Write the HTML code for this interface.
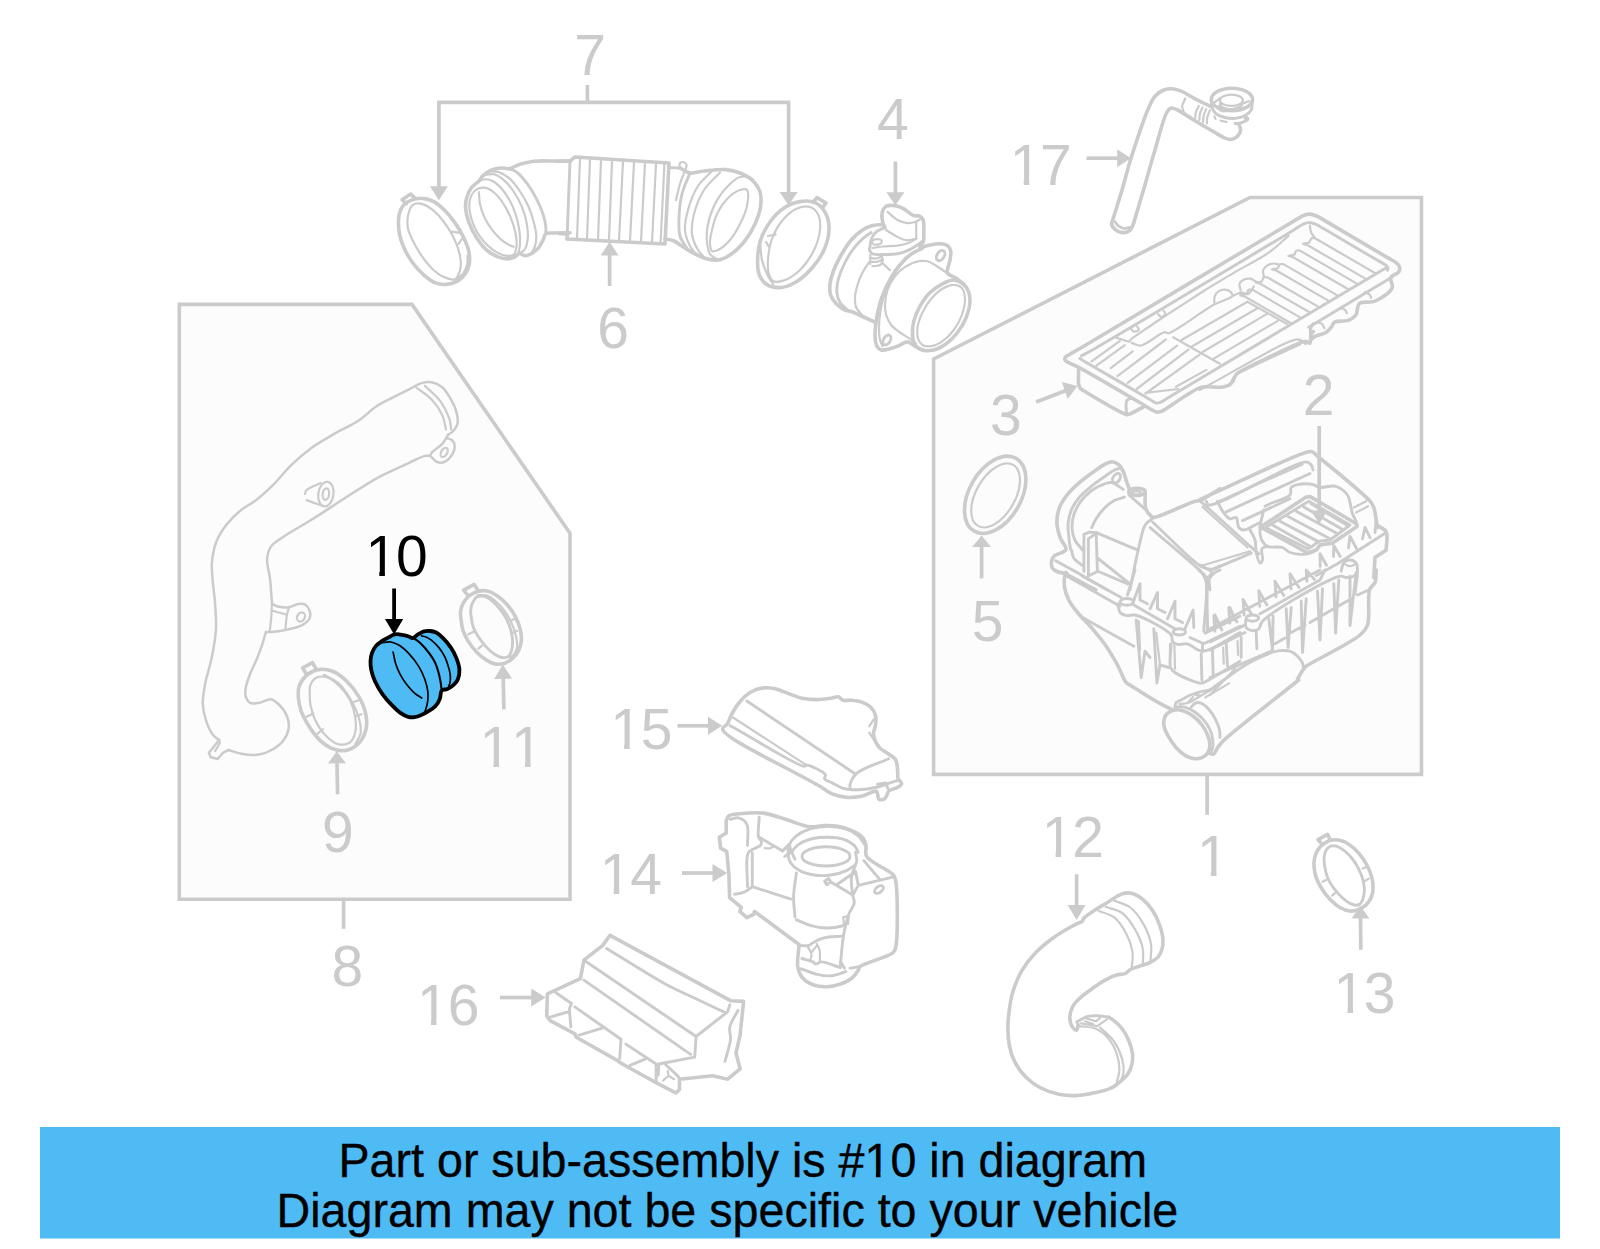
<!DOCTYPE html>
<html lang="en">
<head>
<meta charset="utf-8">
<title>Part diagram</title>
<style>
html,body{margin:0;padding:0;background:#fff;}
body{width:1600px;height:1249px;overflow:hidden;}
svg{display:block;}
.lbl{font-family:"Liberation Sans",sans-serif;font-size:57px;fill:#cbcbcb;}
.hl{font-family:"Liberation Sans",sans-serif;font-size:57px;fill:#000;}
.ban{font-family:"Liberation Sans",sans-serif;font-size:46.63px;fill:#000;stroke:#000;stroke-width:0.35px;}
.k3{fill:#4fbbf5;stroke:#000;stroke-width:3.8;stroke-linejoin:round;}
.k1{fill:none;stroke:#000;stroke-width:1.7;stroke-linecap:round;}
.k2{fill:none;stroke:#000;stroke-width:2.1;stroke-linecap:round;}
.g{fill:none;stroke:#cbcbcb;stroke-width:2.9;stroke-linecap:round;stroke-linejoin:round;}
.g3{fill:none;stroke:#cbcbcb;stroke-width:3.6;stroke-linecap:round;stroke-linejoin:round;}
.g2{fill:none;stroke:#cbcbcb;stroke-width:2.5;stroke-linecap:round;stroke-linejoin:round;}
.t{fill:none;stroke:#cbcbcb;stroke-width:2.2;stroke-linecap:round;stroke-linejoin:round;}
.ld{fill:none;stroke:#cbcbcb;stroke-width:3.7;}
.ah{fill:#cbcbcb;stroke:none;}
.box{fill:#fcfcfc;stroke:#cbcbcb;stroke-width:3.6;stroke-linejoin:miter;}
</style>
</head>
<body>
<svg width="1600" height="1249" viewBox="0 0 1600 1249">
<rect x="0" y="0" width="1600" height="1249" fill="#ffffff"/>
<defs><clipPath id="one"><path d="M-2,-52H35V-5.5H19.5V3H13.9V-5.5H-2Z"/></clipPath><clipPath id="oneb"><path d="M-2,-42H30V-4.4H16V3H11.35V-4.4H-2Z"/></clipPath></defs>

<!-- ===== group boxes ===== -->
<g id="boxes">
<polygon class="box" points="179.3,304.4 412,304.4 570,533.3 570,899.3 179.3,899.3"/>
<polygon class="box" points="933.6,359 1250,197.5 1421.5,197.5 1421.5,774.4 933.6,774.4"/>
</g>

<!-- ===== leader lines ===== -->
<g id="leaders">
<path class="ld" d="M587.4,85.0L587.4,102.4"/>
<path class="ld" d="M438.9,188.0L438.9,102.4L788.6,102.4L788.6,193.0"/>
<polygon class="ah" points="429.9,186.2 447.9,186.2 438.9,200.2"/>
<polygon class="ah" points="779.6,192.0 797.6,192.0 788.6,205.2"/>
<path class="ld" d="M609.6,286.0L609.6,254.0"/>
<polygon class="ah" points="618.6,255.6 600.6,255.6 609.6,241.8"/>
<path class="ld" d="M895.4,161.5L895.4,193.0"/>
<polygon class="ah" points="886.4,192.2 904.4,192.2 895.4,205.2"/>
<path class="ld" d="M1086.5,158.2L1118.0,158.2"/>
<polygon class="ah" points="1117.2,167.2 1117.2,149.2 1130.8,158.2"/>
<path class="ld" d="M1036.1,401.9L1066.0,390.4"/>
<polygon class="ah" points="1067.8,399.1 1061.8,382.1 1077.4,386.1"/>
<path class="ld" d="M1319.2,426.0L1319.2,511.5"/>
<polygon class="ah" points="1311.0,510.6 1327.4,510.6 1319.2,523.9"/>
<path class="ld" d="M981.6,578.4L981.6,546.0"/>
<polygon class="ah" points="991.0,546.9 972.2,546.9 981.6,535.4"/>
<path class="ld" d="M503.9,709.4L503.2,678.0"/>
<polygon class="ah" points="512.1,678.6 494.1,679.0 502.8,664.6"/>
<path class="ld" d="M337.6,794.3L337.0,762.5"/>
<polygon class="ah" points="346.0,763.2 328.0,763.6 336.7,751.2"/>
<path class="ld" d="M343.6,899.3L343.6,928.8"/>
<path class="ld" d="M677.5,725.8L709.0,725.8"/>
<polygon class="ah" points="708.0,734.8 708.0,716.8 722.2,725.8"/>
<path class="ld" d="M682.0,873.0L713.5,873.0"/>
<polygon class="ah" points="712.5,882.0 712.5,864.0 727.2,873.0"/>
<path class="ld" d="M500.0,997.5L532.0,997.5"/>
<polygon class="ah" points="531.2,1006.5 531.2,988.5 545.7,997.5"/>
<path class="ld" d="M1076.6,874.2L1076.6,906.0"/>
<polygon class="ah" points="1067.6,905.0 1085.6,905.0 1076.6,920.0"/>
<path class="ld" d="M1207.1,774.4L1207.1,814.8"/>
<path class="ld" d="M1360.8,949.7L1360.5,917.5"/>
<polygon class="ah" points="1369.5,918.4 1351.5,918.6 1360.3,905.8"/>
</g>

<!-- ===== labels ===== -->
<!-- LABELS-START -->
<g id="labels">
<g transform="translate(574.2,74.8)"><text class="lbl" x="0" y="0">7</text></g>
<g transform="translate(597.2,348)"><text class="lbl" x="0" y="0">6</text></g>
<g transform="translate(876.9,138.7)"><text class="lbl" x="0" y="0">4</text></g>
<g transform="translate(1009.8,184.8)"><text class="lbl" x="0" y="0" clip-path="url(#one)">1</text></g>
<g transform="translate(1039.9,184.8)"><text class="lbl" x="0" y="0">7</text></g>
<g transform="translate(990,434.6)"><text class="lbl" x="0" y="0">3</text></g>
<g transform="translate(1302.7,414.9)"><text class="lbl" x="0" y="0">2</text></g>
<g transform="translate(971.7,640.5)"><text class="lbl" x="0" y="0">5</text></g>
<g transform="translate(479.5,767.4)"><text class="lbl" x="0" y="0" clip-path="url(#one)">1</text></g>
<g transform="translate(511.1,767.4)"><text class="lbl" x="0" y="0" clip-path="url(#one)">1</text></g>
<g transform="translate(322,852.1)"><text class="lbl" x="0" y="0">9</text></g>
<g transform="translate(331.5,986.4)"><text class="lbl" x="0" y="0">8</text></g>
<g transform="translate(610.2,749.3)"><text class="lbl" x="0" y="0" clip-path="url(#one)">1</text></g>
<g transform="translate(640.7,749.3)"><text class="lbl" x="0" y="0">5</text></g>
<g transform="translate(599.8,893.5)"><text class="lbl" x="0" y="0" clip-path="url(#one)">1</text></g>
<g transform="translate(630.3,893.5)"><text class="lbl" x="0" y="0">4</text></g>
<g transform="translate(417,1024.8)"><text class="lbl" x="0" y="0" clip-path="url(#one)">1</text></g>
<g transform="translate(447.8,1024.8)"><text class="lbl" x="0" y="0">6</text></g>
<g transform="translate(1041.7,857.4)"><text class="lbl" x="0" y="0" clip-path="url(#one)">1</text></g>
<g transform="translate(1072.3,857.4)"><text class="lbl" x="0" y="0">2</text></g>
<g transform="translate(1197,875.9)"><text class="lbl" x="0" y="0" clip-path="url(#one)">1</text></g>
<g transform="translate(1333.6,1012.9)"><text class="lbl" x="0" y="0" clip-path="url(#one)">1</text></g>
<g transform="translate(1363.8,1012.9)"><text class="lbl" x="0" y="0">3</text></g>
<g transform="translate(365.4,575.8)"><text class="hl" x="0" y="0" clip-path="url(#one)">1</text></g>
<g transform="translate(395.9,575.8)"><text class="hl" x="0" y="0">0</text></g>
</g>
<!-- LABELS-END -->

<!-- PARTS-START -->
<g id="clamp7l">
<path class="g3" d="M398.4,222C398.5,218.8 398.7,215.8 399.6,213C400.4,210.2 401.6,207.3 403.5,205.1C405.5,202.9 408.4,201.2 411.4,200.1C414.7,198.8 418.9,198.1 422.6,198.4C426.4,198.6 430.3,199.9 433.9,201.7C437.8,203.8 441.6,207.3 445.1,210.7C448.8,214.4 452.2,218.8 455.2,223.1C458.2,227.4 460.9,231.9 463.1,236.6C465.4,241.3 467.8,246.5 468.7,251.2C469.6,255.5 469.9,259.8 469.3,263.6C468.7,267.2 467.4,270.8 465.4,273.7C463.4,276.6 460.6,279.3 457.5,281.1C454.3,282.9 450,284.2 446.2,284.4C442.5,284.7 438.6,284.2 435,282.7C431.1,281.2 427.3,278 423.7,274.9C419.8,271.4 415.8,267.1 412.5,262.5C409,257.7 405.7,251.8 403.5,246.7C401.6,242.5 400.4,238.5 399.6,234.4C398.7,230.3 398.4,225.8 398.4,222Z"/>
<path class="t" d="M407.4,222C407.5,219.2 407.7,215.8 408.6,213C409.4,210.2 410.5,206.7 412.5,205.1C414.2,203.7 416.9,203.3 419.2,203.4C422.1,203.6 425.3,205.1 428.2,206.8C431.7,208.8 435.2,212 438.4,215.2C441.8,218.8 445.1,223.3 447.9,227.6C450.7,231.9 453.3,236.5 455.2,241.1C457.2,245.5 458.9,250.2 459.7,254.6C460.6,258.8 461.1,263.3 460.6,267C460.3,270.1 459.3,273.2 458.1,275.4C457.1,277.1 456.4,278.8 454.7,279.4C452.3,280.2 447.5,278.6 444,277.1C440.1,275.4 436.3,272.5 432.7,269.2C428.7,265.6 424.9,260.6 421.5,255.7C418.1,250.8 414.9,244.9 412.5,240C410.6,236 408.8,232.1 408,228.7C407.4,226.3 407.4,224.4 407.4,222Z M456.4,279.4C458.6,277.5 461.4,276.1 463.1,273.7C465,271.3 466.3,267.8 467.1,264.7C467.8,261.8 467.4,258.7 467.6,255.7"/>
<path class="g3" d="M406.3,203.8L402.1,199.7L410.8,194.1L415,198.1"/>
<path class="t" d="M451.9,231.6L462,233.2 M462,238.9L458.6,243.9"/>
</g>
<g id="duct6">
<path class="g3" d="M570,161.2C564.4,161.2 558.9,161 553.1,161C546.9,161 539.8,160.6 534,161.2C529.1,161.8 524.7,162.8 520.5,164.1C516.5,165.3 512.9,168 509.2,168.6C506.1,169.1 503.2,167.7 500.2,168C497.2,168.3 494.1,169 491.2,170.2C488.4,171.5 485.5,173.4 483.4,175.3C481.5,177 480.7,179 478.9,180.9C476.7,183.3 473.1,185.4 471,188.2C468.9,191.2 467.4,194.9 466.5,198.4C465.6,201.7 465.3,204.9 465.6,208.5C465.9,212.7 467.1,217.4 468.7,222C470.6,227.2 473.5,233 476.6,237.7C479.6,242.3 483,246.9 486.7,250.1C490.2,253.1 494.2,255.4 498,256.9C501.4,258.2 505.1,259 508.1,258.9C510.6,258.8 512.9,257.9 514.9,256.9C516.6,256 517.7,253.7 519.4,253.5C521.1,253.3 523,255.7 525,255.7C527.1,255.8 529.6,254.7 531.7,253.5C534.1,252.2 536.6,250.1 538.5,247.9C540.4,245.6 541.7,242.5 543,240C544.1,237.8 544.2,235 545.8,233.8C547.5,232.6 550.4,233.2 553.1,233C556.7,232.8 562.4,232.7 565.5,232.7C567.4,232.7 568.5,232.7 570,232.7"/>
<path class="g" d="M509.2,168.6C511.9,169.9 514.5,170.5 517.1,172.5C520.5,175.1 524.1,179.6 527.2,183.7C530.6,188.2 533.6,193.3 536.2,198.4C538.9,203.4 541.4,209.1 543,214.1C544.4,218.4 545.4,222.9 545.8,226.5C546.1,229.2 545.8,231.4 545.8,233.8"/>
<path class="t" d="M478.9,181.5C480.4,180.8 481.6,179.7 483.4,179.5C485.6,179.1 488.7,179.3 491.2,180.4C494.3,181.6 497.4,184.3 500.2,187.1C503.5,190.4 506.7,195 509.2,199.5C512,204.3 514.3,209.9 516,215.2C517.6,220.4 518.7,225.8 519.4,231C520,235.9 520.3,241.5 519.9,245.6C519.7,248.7 518.8,250.9 518.2,253.5 M469.3,206.2C469.2,202.4 469.7,199 471,196.1C472.2,193.5 474.3,190.8 476.6,189.4C478.8,188 481.8,187.4 484.5,187.7C487.5,188.1 490.7,190 493.5,192.2C496.8,194.7 499.8,198.4 502.5,202.3C505.5,206.6 508.2,211.9 510.4,216.9C512.5,222 514.4,227.6 515.4,232.7C516.3,237.2 517,241.7 516.6,245.6C516.2,248.9 515.7,253 513.7,254.6C512,256.1 508.5,256 505.9,255.7C502.9,255.4 499.8,254 496.9,252.4C493.7,250.7 490.7,248.2 487.9,245.6C485,243 482.4,240 480,236.6C477.4,233 475,228.9 473.2,224.2C471.3,218.9 469.4,211.4 469.3,206.2Z M478.9,192.2C479.2,196.1 479.1,200 480,204C480.9,208.4 482.6,213.3 484.5,217.5C486.4,221.5 488.7,225.2 491.2,228.7C493.9,232.3 497.1,236.1 500.2,238.9C503.1,241.4 506.7,243.7 509.2,245.1C510.9,245.9 512.2,246.2 513.7,246.7 M483.4,175.3C486.7,174.9 490.2,173.5 493.5,174.2C497,174.9 500.5,177.2 503.6,179.8C507.3,182.8 510.8,187.3 513.7,191.6C516.8,196.1 519.5,201.1 521.6,206.2C523.8,211.6 525.7,217.6 526.7,223.1C527.6,228.1 528.2,233.2 527.8,237.7C527.5,241.8 526.6,246.4 525,249C523.8,250.9 522,251.6 520.5,252.9 M489,171.4C492,171.6 494.9,171 498,171.9C501.7,173 505.8,175.3 509.2,178.1C513.1,181.3 516.3,186 519.4,190.5C522.7,195.3 525.9,200.8 528.4,206.2C530.8,211.7 532.7,217.9 534,223.1C535.1,227.5 536.1,231.6 536.2,235.5C536.4,239 536,242.6 535.1,245.6C534.4,248.3 532.9,250.5 531.7,252.9"/>
<path class="g3" d="M559.4,161L570,161L575,157L669,163L665,244L567,239L567.4,234L559.4,233.6"/>
<path class="g" d="M570,161L567,239"/>
<path class="t" d="M580,158.9L577,238.5 M590,159.6L587,239 M601,160.3L598,239.6 M612,161L609,240.1 M623,161.7L619,240.7 M634,162.4L630,241.2 M645,163.1L641,241.8 M656,163.8L652,242.3 M664.4,164.3L660.6,242.8"/>
<path class="g" d="M669,167.6L680,168"/>
<path class="t" d="M680,168C679.9,166.5 679,164.6 679.6,163.6C680.1,162.7 681.9,161.9 683,162C684.2,162.1 685.9,163.3 686.4,164.4C686.9,165.5 686.1,167.1 686,168.4"/>
<path class="g3" d="M680,168C683.3,169.7 686.3,172.4 690,173C694.2,173.7 698.8,171.5 704,171C710.5,170.3 719.5,169 726,169.6C731.2,170.1 735.6,171.2 740,173C744.3,174.7 748.7,176.9 752,180C755.4,183.2 758.6,187.6 760,192C761.4,196.3 761.2,201.1 760.6,206C759.9,211.7 757.6,218.2 755,224C752.2,230.2 748.3,236.7 744,242C739.9,247 734.8,251.9 730,255C726.1,257.5 722.2,259.5 718,260C713.6,260.6 708.7,259.5 704,258C698.7,256.3 692,252.3 688,250C685.5,248.5 684.2,247.4 682,246C679.5,244.4 676.9,242.2 674,241C671.2,239.8 668,239.7 665,239"/>
<path class="g" d="M690,173C687.3,180 683.8,186.7 682,194C680.1,201.6 679.3,210.6 679,218C678.8,224.4 678.4,230.5 680,236C681.5,241.2 685.3,245.3 688,250"/>
<path class="t" d="M760,192C757.3,187.7 755.6,181.4 752,179C748.8,176.8 743.9,176 740,177C735.2,178.2 730.2,183.5 726,188C721.4,193 717.1,199.6 714,206C711,212.3 708.7,219.6 707.6,226C706.6,231.6 706.5,237.1 707,242C707.4,246.3 708,250.9 710,254C711.8,256.8 715.3,258 718,260 M747,190C745.6,188.6 742.5,189.2 740,190C736.4,191.1 731.5,194.6 728,198C724.1,201.8 720.6,206.8 718,212C715.2,217.4 713.3,224.3 712,230C710.8,234.9 709.7,240.2 710,244C710.2,246.8 710.5,250.1 712,251C713.3,251.8 715.8,251 718,250C721.5,248.4 726.5,244.1 730,240C733.9,235.5 737.2,229.6 740,224C742.9,218.3 745.9,211.9 747,206C748,200.6 749.1,192.1 747,190Z M720,172.4C714.7,178.3 708.3,183.3 704,190C699.5,197 696,206.2 694,214C692.3,220.8 691.2,227.8 692,234C692.7,239.7 695.6,245.9 698,250C699.8,253 702,254.7 704,257 M712,171C707.3,176 701.9,180 698,186C693.6,192.7 690.2,202.2 688,210C686.1,216.8 684.5,223.8 685,230C685.4,235.7 687.8,241.7 690,246C691.7,249.3 694,251.3 696,254 M684,173C682.7,176.7 681.2,180 680,184C678.5,188.8 677.3,194.7 676,200"/>
</g>
<g id="clamp7r">
<path class="g3" d="M757.6,260C757.7,254.4 758.2,248 760,242C762,235.3 765.8,227.8 770,222C773.9,216.6 778.8,211.4 784,208C788.9,204.8 794.6,202.4 800,201.6C805.2,200.8 811.6,200.8 816,203C820.2,205.1 823.8,209.6 826,214C828.3,218.6 829.2,224.4 829,230C828.8,236.3 826.8,243.7 824,250C821.2,256.4 816.7,262.6 812,268C807.3,273.3 801.7,278.7 796,282C790.9,285 785.2,287.4 780,287.6C775.2,287.8 769.6,286.5 766,284C762.7,281.7 760.4,277.8 759,274C757.5,269.9 757.5,265 757.6,260Z"/>
<path class="t" d="M768,260C768.4,254.2 769.3,246.4 771.6,240C773.9,233.4 777.7,226.3 782,221C786,216.1 791,211.3 796,209C800.4,207 806.2,205.8 810,207C813.5,208.1 816.7,211.5 818.4,215C820.4,219 820.5,224.7 820,230C819.4,236.2 817.1,243.6 814,250C810.6,256.9 805.4,264.8 800,270C795.2,274.6 789,278.8 784,280.4C780.2,281.7 775.6,282.5 773,281C770.5,279.6 769.3,275.3 768.4,272C767.5,268.4 767.7,264.5 768,260Z M760,242C760.7,248 760.6,254.3 762,260C763.3,265.6 765.9,271.7 768,276C769.6,279.2 771.3,281.3 773,284"/>
<path class="g3" d="M813,202.4L817,197.6L826,203L822.4,208"/>
<path class="t" d="M768,236L775.6,234.6 M766,242L769,247"/>
</g>
<g id="maf4">
<path class="g3" d="M885,227.5C884.4,226.2 883.6,225.4 883.1,223.8C882.4,220.9 881.5,214.4 882.5,211.2C883.2,209.1 884.4,207.2 886.2,206.2C888.4,205.1 892.2,205.3 895,205.6C897.6,206 899.8,206.8 902.5,208.1C906,209.8 910.4,214.4 913.8,215.6C916,216.4 918.4,215.4 920,216.2C921.4,217 922.4,218.2 923.1,220C924.2,222.8 923.8,228.6 923.8,232.5C923.7,236 924.2,240.2 923.1,242.5C922.4,244 921,244.6 920,245.6"/>
<path class="t" d="M887.5,211.9C890.8,214.6 894,218.1 897.5,220C900.7,221.7 904.3,222.9 907.5,223.1C910.5,223.3 914,222.3 916.2,221.5C917.8,220.9 918.8,220.1 920,219.4 M886.2,230C889.6,232.1 892.8,234.5 896.2,236.2C899.5,237.9 902.9,239.9 906.2,240.2C909.4,240.6 912.5,239.2 915.6,238.8 M916.2,221.9L916.2,238.8"/>
<path class="g" d="M885,227.5C882.1,229 878.5,229.9 876.2,231.9C874.1,233.7 872.5,236.3 871.5,238.8C870.5,241.1 870.3,244.2 870,246.2C869.8,247.7 869.2,248.8 869.5,250C869.9,251.3 870.9,252.9 872.5,253.8C875.1,255.1 880.8,254.5 885,254.5C889.2,254.5 893.6,254.5 897.5,253.8C901.1,253.1 904.2,252 907.5,250.6C910.9,249.2 914.8,246.8 917.5,245C919.5,243.7 920.8,242.5 922.5,241.2"/>
<path class="t" d="M872.5,248.1C875.8,247.6 878.8,246.9 882.5,246.5C887,246 893.2,246.2 897.5,245.6C900.8,245.2 903.3,244.8 906.2,243.8C909.5,242.6 912.9,240.4 916.2,238.8"/>
<ellipse class="t" cx="876.9" cy="241.9" rx="5" ry="2.8" transform="rotate(-5 876.9 241.9)"/>
<path class="t" d="M870.2,255L870.2,264 M881.5,255C881.9,256.7 882.9,258.4 882.8,260C882.6,261.7 881.7,263.9 880.2,265C878.5,266.3 875.1,265.8 872.5,266.2 M871.9,258.1C873.3,258.2 874.8,258.7 876.2,258.5C877.7,258.3 879.2,257.4 880.6,256.9 M871.9,261.9C873.5,261.9 875.3,262.2 876.9,261.9C878.5,261.6 880,260.6 881.5,260 M882.5,263.1L890,270.2"/>
<path class="g3" d="M882.5,224.4C879.2,224.8 875.8,224.7 872.5,225.6C869.1,226.6 865.8,227.9 862.5,230C858.7,232.5 854.7,236.1 851.2,240C847.5,244.3 844.2,249.9 841.2,255C838.4,259.9 835.7,265 833.8,270C832,274.6 830.5,279.4 830,283.8C829.6,287.7 829.5,291.6 830.6,295C831.7,298.3 833.9,301.3 836.2,303.8C838.7,306.3 842.2,308.7 845,310C847.2,311 848.9,310.7 851.2,311.5C854.5,312.6 858.7,314.8 862.5,316.5C866.4,318.3 870.4,320.1 874.4,321.9"/>
<path class="g" d="M871.2,232.5C868.3,234.6 865.4,236.2 862.5,238.8C859.1,241.8 855.5,245.8 852.5,250C849.2,254.5 846.2,259.9 843.8,265C841.4,269.9 839.3,275.2 838.1,280C837.1,284.3 836.5,288.6 836.9,292.5C837.2,296.1 838.2,299.6 840,302.5C841.8,305.4 845,307.5 847.5,310"/>
<path class="t" d="M868.8,262.5C866.7,265.8 864.3,268.9 862.5,272.5C860.5,276.4 858.8,280.8 857.5,285C856.3,289.1 855.1,293.6 855,297.5C854.9,301 855,304.5 856.2,307.5C857.5,310.5 860.4,312.9 862.5,315.6"/>
<path class="g3" d="M920,247.8C923.3,246.8 926.5,245.7 930,245C933.6,244.3 938.1,243.5 941.2,243.8C943.7,244 945.9,244.4 947.5,245.6C949,246.8 950.1,248.6 950.6,250.6C951.3,253.2 950.4,256.6 950,260C949.5,264 946.1,270.1 947.5,273.1C948.7,275.8 953.5,276.2 956.2,278.1C958.9,280 961.2,282.3 963.8,284.4 M922.5,248.1C918.3,250.4 913.8,252.2 910,255C906.3,257.8 903.1,261.3 900,265C896.8,268.8 893.9,273 891.2,277.5C888.5,282.2 885.9,287.4 883.8,292.5C881.7,297.4 880,302.6 878.8,307.5C877.6,312.1 876.9,316.6 876.2,321.2C875.6,326.1 874.8,331.8 875,336.2C875.2,339.9 875.5,343.9 876.9,346.2C877.9,348 879.4,349.5 881.2,350C883.6,350.7 887.2,349.4 890,348.8C892.6,348.1 894.8,347.3 897.5,346.2C900.6,345.1 904.4,341.7 907.5,341.9C910.2,342 912.5,344.9 915,346.2C917.5,347.6 920,348.8 922.5,350"/>
<path class="t" d="M906.2,256.9C903.1,260.6 899.7,264 896.9,268.1C893.9,272.5 891,277.6 888.8,282.5C886.6,287.4 884.9,292.5 883.5,297.5C882.1,302.5 881,307.5 880.2,312.5C879.5,317.5 879,322.7 879,327.5C879,331.9 879.2,336.6 880,340C880.6,342.5 881.7,344.2 882.5,346.2"/>
<ellipse class="g" cx="940.6" cy="255.6" rx="3.6" ry="5.6" transform="rotate(32 940.6 255.6)"/>
<ellipse class="g" cx="886.9" cy="340.0" rx="3.4" ry="5.4" transform="rotate(32 886.9 340.0)"/>
<path class="t" d="M916.2,343.8C914.2,342.1 912.4,340.4 910,338.8C907.1,336.7 903.1,334.8 900,332.5C896.9,330.2 893.5,327.9 891.2,325C889,322.1 887.3,318.4 886.2,315C885.3,311.7 884.9,308.7 885,305C885.1,300.5 885.9,294.8 887.5,290C889.2,285.2 891.8,280.2 895,276.2C898.1,272.3 902.2,268.8 906.2,266.2C910.1,263.9 914.9,262 918.8,261.2C921.9,260.7 924.8,260.6 927.5,261.2C930.2,261.9 932.3,263.4 935,265C938.4,267 942.9,270.3 946.2,272.5C949,274.3 951.2,275.8 953.8,277.5"/>
<path class="g3" d="M963.8,284.4C966.1,286.4 967.7,289.5 968.8,292.5C969.8,295.6 970.2,298.9 970,302.5C969.7,307 968.2,312.6 966.2,317.5C964.2,322.7 960.9,328.1 957.5,332.5C954.2,336.8 950.4,340.8 946.2,343.8C942.4,346.5 937.9,349 933.8,350C930,350.9 925.7,351 922.5,350C919.6,349.1 916.7,347.4 915,345C913.2,342.5 912.8,338.6 912.5,335C912.2,330.8 912.6,325.8 913.8,321.2C915,316.3 917.3,311 920,306.2C922.7,301.4 926.1,296.3 930,292.5C933.7,288.9 938.3,285.9 942.5,283.8C946.2,281.9 950.1,279.8 953.8,280C957.2,280.2 961.2,282.2 963.8,284.4Z"/>
<path class="t" d="M961.9,288.1C964,290.5 964.8,294.8 965,298.8C965.2,303.6 963.7,309.8 961.9,315C960,320.3 957.1,325.6 953.8,330C950.6,334.3 946.5,338.5 942.5,341.2C939,343.7 934.8,345.8 931.2,346.2C928.2,346.7 924.7,346.4 922.5,345C920.4,343.7 919,341.3 918.1,338.8C917.1,335.7 917,331.5 917.5,327.5C918.1,322.8 920.2,317.3 922.5,312.5C924.8,307.7 927.8,302.8 931.2,298.8C934.5,294.9 938.5,291.1 942.5,288.8C946.1,286.6 950.3,284.7 953.8,284.8C956.7,284.8 960,286 961.9,288.1Z"/>
</g>
<g id="hose17">
<path class="g3" d="M1133.8,222.5C1132.9,224.6 1132.4,227.1 1131.2,228.8C1130.2,230.1 1129,231.3 1127.5,231.9C1125.8,232.6 1123.3,232.8 1121.2,232.4C1119.1,232 1116.6,230.8 1115,229.4C1113.5,228.1 1111.9,226.2 1111.6,224.4C1111.3,222.6 1112.4,221.3 1113.1,218.8C1114.8,212.9 1119.1,199.9 1122,190C1125.1,179.5 1127.5,169.4 1131.2,157.5C1136,142.6 1144,118.1 1148.8,107.5C1151.1,102.3 1152.3,99.2 1155,96.2C1157.4,93.5 1160.7,91.2 1163.8,90C1166.5,88.9 1169.6,88.6 1172.5,88.8C1175.4,89 1178.2,90 1181.2,91.2C1185.1,92.8 1189.3,95.8 1193.8,98.1C1198.8,100.8 1204.6,103.5 1210,106.2"/>
<path class="g" d="M1115,221.9C1116.2,223.3 1117.3,225.2 1118.8,226.2C1120.2,227.3 1122,228.2 1123.8,228.4C1125.7,228.7 1127.9,227.8 1130,227.5"/>
<path class="g3" d="M1133.8,222.5C1136.5,213.3 1139,205.3 1142,195C1145.9,181.8 1150.6,164.4 1155,150C1159,136.7 1163.3,117.8 1167.1,111.9C1168.5,109.7 1169.6,108.5 1171.2,108.1C1173,107.7 1175,108.9 1177.5,110C1181.7,111.9 1188,116.5 1193.8,120C1200.3,124 1209.2,129.2 1215,132.5C1218.9,134.8 1222,137 1225,138.1C1227.3,139 1229.2,139.6 1231.2,139.4C1233.4,139.1 1235.9,137.8 1237.5,136.2C1239.1,134.7 1240.4,132.1 1240.6,130C1240.8,128.1 1239.5,126.2 1239,124.4"/>
<path class="t" d="M1185.2,98.5C1184.2,101.1 1182.4,103.7 1182.2,106.2C1182.1,108.6 1183.4,110.8 1184,113.1 M1198.8,106C1197.8,108 1196.6,109.9 1196,111.9C1195.4,113.8 1195.5,115.8 1195.2,117.8 M1202.5,107.5C1201.6,109.6 1200.5,111.6 1199.9,113.8C1199.4,115.8 1199.6,117.9 1199.4,120 M1206.2,109C1205.4,111.2 1204.2,113.3 1203.7,115.6C1203.2,117.7 1203.3,119.9 1203.1,122.1 M1210,110.2C1209.1,112.5 1208,114.6 1207.4,116.9C1206.9,119 1207.1,121.3 1206.9,123.5"/>
<ellipse class="g3" cx="1231.9" cy="99.4" rx="20.6" ry="11.2"/>
<path class="g" d="M1211.2,100C1211.5,102.5 1211,105.2 1211.9,107.5C1212.7,109.8 1214.2,112.1 1216.2,113.8C1218.5,115.6 1221.9,116.7 1225,117.5C1228.2,118.3 1231.7,118.7 1235,118.4C1238.4,118.1 1242.2,117.2 1245,115.6C1247.5,114.2 1250,112.4 1251.2,110C1252.6,107.3 1252.1,103.3 1252.5,100"/>
<ellipse class="t" cx="1231.4" cy="100.2" rx="11.5" ry="5.6"/>
<path class="t" d="M1220,101.2C1220.4,102.9 1220.2,105 1221.2,106.2C1222.5,107.7 1225.2,108.4 1227.5,108.8C1230.1,109.2 1233.7,108.9 1236.2,108.1C1238.4,107.5 1240.8,106.4 1241.9,105C1242.7,103.9 1242.5,102.5 1242.8,101.2 M1214,102.8L1220,98.1 M1243.1,103.5L1248.8,101.2 M1220.6,102.8C1220,104.8 1218.2,107.6 1218.8,109C1219.2,110.2 1220.9,110.9 1222.5,111.2C1224.7,111.7 1228.3,110.9 1231.2,110.2C1234.5,109.5 1237.9,108 1241.2,106.9 M1214.4,116.5L1215.6,119 M1220.6,120.6L1226.5,122"/>
<path class="g" d="M1235,123.5C1236.7,123.4 1238.4,123.5 1240,123.1C1241.7,122.8 1243.6,122 1245,121.2C1246.1,120.7 1247.5,120.1 1247.8,119.4C1248,118.8 1247.7,117.7 1247.2,117.5C1246.8,117.2 1245.8,117.9 1245,118.1"/>
</g>
<g id="filter3">
<path class="g3" d="M1162.5,410.9C1160.6,411.3 1158.7,412.3 1156.9,412.1C1155,411.8 1153.3,410.5 1151.2,409.5C1148.8,408.2 1147.3,407 1143.4,404.7C1132.3,398.2 1091.2,373.9 1079.2,367.6C1074.7,365.3 1072.2,364.5 1069.7,363.1C1067.9,362.1 1065.8,361.5 1065.2,360.3C1064.7,359.5 1064.8,358.3 1065.2,357.5C1065.7,356.5 1067,356 1068.6,355C1071.8,352.9 1075.8,350.9 1083.7,346.2C1113.8,328.6 1277.6,230.4 1297.5,218.9C1300.7,217 1301.2,216.6 1303.1,215.7C1305,215 1306.7,214.1 1308.7,214.1C1311.1,214 1314,214.9 1316.6,216C1319.6,217.2 1321.3,218.6 1325.6,221.1C1337,227.8 1376.1,250.8 1387.5,257.6C1391.8,260.2 1394.4,261.1 1396.5,263C1398,264.3 1399.3,265.4 1399.6,266.9C1400,268.4 1399.7,270.4 1398.7,272C1397.4,274.1 1392,275.1 1390.9,277.6C1389.7,280.3 1393.5,284.5 1392.2,287.7C1390.3,292.5 1381.1,298.7 1375.1,301.2C1370,303.4 1362.5,300.8 1359.4,303.5C1356.7,305.8 1358,311.9 1356,314.7C1354.1,317.4 1351.3,319.1 1348.1,320.4C1344.4,321.8 1337.4,320.3 1334.6,322.1C1332.7,323.2 1332.6,325.5 1331.2,327.1C1329.7,329 1328,331.3 1325.6,332.7C1322.9,334.4 1318.1,334.8 1315.5,336.1C1313.6,337.1 1312.5,338.4 1311,339.5 M1162.5,410.9C1174.9,403.2 1191.6,390.8 1199.6,387.9C1203,386.6 1204.5,386.9 1207.5,386.8C1211.4,386.5 1217,387.7 1221,387.2C1224.3,386.8 1227.5,386.4 1230,384.5C1232.9,382.3 1234.1,376.2 1236.8,373.7C1238.8,371.8 1240.1,371.6 1243.5,369.9C1252.7,365 1286,348.7 1296.4,344.5C1300.6,342.7 1302.9,341.2 1305.4,341.3C1307.1,341.3 1308.9,343.7 1309.9,343.1C1311.1,342.4 1310.2,337.1 1311,335C1311.6,333.6 1312.5,332.8 1313.3,331.6"/>
<path class="g" d="M1311,339.5C1310.8,336.1 1309.9,332.2 1310.4,329.4C1310.9,327.2 1312.3,325.6 1313.2,323.7"/>
<path class="g3" d="M1078.7,367.6C1078.7,373.2 1077.9,380.9 1078.7,384.5C1079.1,386.3 1079.5,387.4 1080.4,388.4C1081.2,389.4 1082,389.6 1083.7,390.7C1089.8,394.4 1118.1,411.2 1124.2,413.7C1125.9,414.4 1126.1,414.8 1127.6,414.6C1131,414.3 1138.1,409.5 1143.4,407"/>
<path class="g" d="M1126.5,414.9C1126.5,410.4 1125.5,403.9 1126.5,401.4C1127,400.2 1128,399.6 1128.7,399.1C1129.4,398.7 1130.1,398.7 1130.8,398.6 M1081.5,355.8C1086,353.4 1087.9,352.5 1095,348.5C1122.4,332.9 1268.7,245.1 1293,230.4C1298.5,227 1300.2,225.5 1303.1,224.2C1305.2,223.3 1306.8,222.5 1308.7,222.5C1310.9,222.4 1313.1,223.2 1315.5,224.2C1318.6,225.4 1321,227.2 1325.6,229.8C1336.1,235.8 1365.8,253.4 1376.2,259.6C1380.9,262.4 1384.5,263.9 1386.4,265.8C1387.4,266.8 1388,267.8 1388.1,268.6C1388.1,269.2 1387.7,269.7 1387.5,270.3 M1079.8,358.6C1081.1,359.4 1081.6,359.7 1083.7,360.9C1092.5,365.9 1141.6,394.7 1151.2,400.2C1153.9,401.8 1154.6,402.8 1156.3,403.1C1158,403.3 1159.6,402.6 1161.4,401.9C1163.5,401.1 1164.3,400.1 1168.1,397.8C1189.3,384.9 1350.3,289.1 1376.2,273.7C1382.2,270.1 1383.6,269.3 1387.3,267.2 M1390.9,277.8L1308.7,327.3"/>
<path class="t" d="M1315,238.2L1376.2,273.7 M1306.9,244.8L1366.7,279.4 M1299.9,250.6L1358.2,284.4 M1292.3,256.8L1349.2,289.7 M1283.4,264.1L1338.6,296.1 M1275.8,270.3L1329.6,301.4 M1267.3,277.3L1319.4,307.4 M1259.8,283.5L1310.4,312.8 M1252.2,289.6L1301.4,318.1 M1244.2,296.2L1291.9,323.8 M1315,238.2C1313.8,238.2 1312.4,237.8 1311.5,238.3C1310.4,239 1310.4,241.3 1309.2,242.3C1307.8,243.3 1302.9,243.3 1302.9,243.8C1302.9,244.1 1305.6,244.4 1306.9,244.8 M1299.9,250.6C1298.7,250.6 1297.3,250.1 1296.4,250.7C1295.3,251.3 1295.3,253.8 1294.1,254.6C1292.8,255.6 1288.3,255.4 1288.3,255.8C1288.3,256.1 1291,256.4 1292.3,256.8 M1283.4,264.1C1282.2,264.2 1280.8,263.7 1279.9,264.2C1278.8,264.9 1278.8,267.3 1277.6,268.2C1276.3,269.1 1271.8,268.9 1271.8,269.3C1271.8,269.6 1274.5,270 1275.8,270.3 M1267.3,277.3C1266.2,277.3 1264.8,276.8 1263.8,277.4C1262.8,278 1262.8,280.5 1261.6,281.3C1260.2,282.3 1255.7,282.1 1255.7,282.4C1255.7,282.8 1258.4,283.1 1259.8,283.5 M1252.2,289.6C1251.1,289.7 1249.7,289.2 1248.7,289.8C1247.7,290.4 1247.7,292.8 1246.5,293.7C1245,294.8 1240.2,294.8 1240.2,295.2C1240.2,295.6 1242.9,295.9 1244.2,296.2 M1309.9,225.6C1310.2,227.8 1310.2,230.1 1311,232.1C1311.8,234.1 1313.4,235.8 1314.6,237.7 M1091.6,361.4L1119.7,341.2 M1096.1,365.9L1124.8,345.1 M1110.7,368.2L1132.7,351.3 M1117.5,376.1L1165.9,339.5 M1127.6,382.8L1177.1,345.7 M1136.6,389L1188.4,349.6 M1145.6,393.5L1199.6,354.7 M1176,386.7L1206.4,369.9 M1145.6,392.9L1178.2,389 M1116.4,337.8L1128.7,341.7L1132.7,337.8 M1132.7,337.8C1143,330.9 1152.5,324.3 1163.6,317C1176.4,308.5 1191.4,299 1205.2,290 M1131.6,342.9C1134.4,343.8 1137.4,345.8 1140,345.7C1142.4,345.6 1144,344.2 1146.7,342.9C1151.4,340.6 1161.1,332.6 1164.7,332.2C1166.3,332 1166.4,333.5 1168.1,333.3C1174.8,332.5 1202.7,310.6 1214.2,304.6C1220.7,301.3 1224.7,300.1 1230,297.9 M1173.2,337.2L1219.9,363.7 M1131,328.8C1131.9,329.7 1132.6,331.3 1133.8,331.6C1135.2,331.9 1138.5,330.9 1138.9,329.9C1139.2,329.1 1137.7,327.7 1137.2,326.6 M1158,314.2C1159.1,315.1 1160.2,317 1161.4,317C1162.6,317 1165.1,314.8 1165.3,313.6C1165.5,312.7 1164.2,311.7 1163.6,310.8 M1205.2,289.9C1214.6,284.3 1223.4,278.9 1233.4,273.1C1244.6,266.4 1259.5,259.2 1269.4,252.2C1277,246.8 1282.1,241.3 1288.5,235.8 M1230,297.8C1231.9,296.7 1233.6,295.3 1235.6,294.4C1237.6,293.6 1239.7,292.8 1241.8,292.7C1243.9,292.7 1246.2,294.7 1248,294.1C1249.8,293.5 1251.5,290.3 1252.5,288.8C1253.2,287.8 1253.4,287.1 1253.8,286.2 M1214.2,302.3C1214.4,300.2 1214.1,298 1214.8,296.1C1215.6,294.2 1217,292.2 1218.7,291.1C1220.5,289.9 1223.4,289.4 1225.5,289.6C1227.5,289.8 1230,291 1231.1,292.2C1232,293 1232,294.2 1232.5,295.2 M1240.7,290.5C1240.3,288.2 1239,285.6 1239.6,283.7C1240.1,282.1 1241.8,280.7 1243.5,279.8C1245.3,278.9 1248.1,278.4 1250.2,278.7C1252.3,279 1254,280.6 1255.9,281.5 M1263.7,276.1C1263.6,274.1 1262.6,272 1263.2,270.2C1263.7,268.5 1265.5,266.9 1267.1,265.7C1268.9,264.5 1271.8,263.6 1273.9,263.5C1275.5,263.4 1276.9,264.2 1278.4,264.6 M1181.6,340L1247.4,301.7L1289.6,325.4 M1192.3,346.2L1257,308.5 M1203,351.8L1266.6,314.1 M1213.7,358.6L1277.8,320.9 M1199.6,389.9C1232.2,373.1 1284.8,340 1297.5,339.4C1300.5,339.3 1301.7,340.7 1303.1,341.7C1304.2,342.4 1304.6,343.4 1305.4,344.3"/>
<path class="g" d="M1233.4,381.6C1234.1,379.4 1234.3,376.6 1235.6,374.9C1236.9,373.2 1238.3,373.1 1241.2,371.5C1250.4,366.6 1280.2,353.3 1299.7,344.3"/>
<path class="t" d="M1365,292.2C1366.5,293 1368.5,293.5 1369.5,294.5C1370.4,295.4 1370.6,296.7 1371.2,297.9 M1340.2,308C1341.7,308.6 1343.6,308.8 1344.7,309.7C1345.8,310.5 1346.2,311.9 1347,313.1 M1316.6,322.1C1318.3,322.6 1320.4,322.7 1321.7,323.7C1323,324.8 1323.6,326.7 1324.5,328.2"/>
</g>
<g id="housing2">
<path class="g3" d="M1067,573.7C1063.6,573 1059.5,572.7 1056.9,571.5C1055,570.6 1053.3,569.7 1052.4,568.1C1051.3,566.2 1051.3,562.4 1051.8,560.2C1052.3,558.5 1053.1,557.2 1054.6,555.7C1057,553.5 1064.9,552.5 1065.9,549.6C1066.8,546.6 1061.7,542 1060.2,537.7C1058.7,533.2 1057.1,528 1056.9,523.1C1056.7,518.3 1057.5,513.1 1059.1,508.5C1060.8,503.7 1063.8,499.2 1067,495C1070.4,490.5 1074.9,486.5 1079.4,482.6C1083.9,478.6 1089.4,474.6 1094,471.4C1097.9,468.6 1101.9,465.7 1105.2,464.1C1107.7,462.9 1109.8,461.7 1112,461.8C1114.3,461.9 1116.9,463.1 1118.7,464.6C1120.7,466.2 1122,468.8 1123.2,471.4C1124.7,474.3 1125.6,478.5 1126.6,481.5C1127.4,484 1128.1,486 1128.9,488.2"/>
<path class="g" d="M1070.4,549C1069.8,544.5 1069.1,539.9 1068.7,535.5C1068.3,531.3 1067.7,527.3 1068.1,523.1C1068.6,518.7 1069.7,513.9 1071.5,509.6C1073.4,505.2 1076.2,501.1 1079.4,497.2C1082.8,493.2 1087.5,489.4 1091.7,486C1095.8,482.7 1100.3,479.7 1104.1,477C1107.3,474.7 1110.4,472.3 1113.1,470.8C1115.2,469.7 1116.9,469.3 1118.7,468.6 M1082.7,550.1C1080.1,546.7 1076.7,543.7 1074.9,540C1073.2,536.5 1072.3,532.7 1072.1,528.7C1071.8,524.5 1072.4,519.6 1073.7,515.2C1075.1,510.6 1077.6,505.8 1080.5,501.7C1083.5,497.6 1087.6,493.5 1091.7,490.5C1095.8,487.6 1101.4,485 1105.2,483.7C1107.8,482.9 1109.6,482.2 1112,482.6C1115.4,483.3 1119.5,487.1 1123.2,489.4 M1128.9,495L1145.7,509.6L1152.5,517.5"/>
<ellipse class="g" cx="1116.5" cy="478.1" rx="3.4" ry="5.2" transform="rotate(32 1116.5 478.1)"/>
<path class="g" d="M1091.7,527.6C1093.2,524.6 1094.4,521.6 1096.2,518.6C1098.4,515.2 1101.1,511.5 1104.1,508.5C1107.1,505.5 1110.7,502.5 1114.2,500.6C1117.5,498.9 1121,498.4 1124.4,497.2"/>
<ellipse class="g3" cx="1137.0" cy="491.8" rx="8.2" ry="3.6"/>
<ellipse class="t" cx="1136.5" cy="493.0" rx="4.6" ry="1.8"/>
<path class="g3" d="M1145.2,493.9C1145.4,498.7 1144.4,504.5 1145.7,508.5C1146.9,511.7 1149.8,515 1151.4,516.4C1152.2,517.1 1152.4,517.4 1153.6,517.5C1158.8,517.7 1188.3,502.9 1195.2,501.2C1197.5,500.6 1197.8,501.3 1199.7,500.6C1204.2,499.1 1213.2,492.7 1220,488.8 M1200,499.4C1235.8,483.5 1294.7,454.6 1307.5,451.9C1310.1,451.3 1311,451.3 1312.5,451.9C1313.9,452.4 1314.3,453.3 1316.2,455C1323.7,461.3 1362.7,492.6 1370,501.2C1372.3,504 1372.8,505 1373.8,507.5C1375.1,510.9 1375.6,516.4 1376.2,520C1376.8,522.8 1377.1,525 1377.5,527.5"/>
<path class="g" d="M1206.2,501.2C1207.1,502.5 1206.9,504.5 1208.8,505C1217.7,507.6 1294.3,461 1306.2,461.9C1309.1,462.1 1310.1,463.6 1311.2,465C1312.3,466.3 1312.5,468.3 1313.1,470 M1199.8,500.6L1250,546.2L1258.8,553.8"/>
<path class="t" d="M1202.5,506.9L1247.5,547.5"/>
<path class="g" d="M1226.2,511.9L1310,473.5 M1242.5,520.6L1290,498.8"/>
<path class="t" d="M1218.8,501.2L1302.5,464.4"/>
<path class="g" d="M1217.5,501.2C1219.2,504.6 1220.4,508.3 1222.5,511.2C1224.6,514.1 1227.4,518 1230,518.8C1232,519.4 1234.8,516.6 1236.2,517.5C1238.1,518.7 1237.1,525.4 1238.8,527.5C1240,529 1241.6,530 1243.8,530C1247.6,530.1 1254.6,525 1260,522.5 M1265,506.2C1266.7,505.4 1267.8,504.8 1270,503.8C1274.4,501.7 1287.1,498.7 1290,495C1291.7,492.8 1289.8,489.3 1291.2,487.5C1292.7,485.7 1295.8,485 1298.8,484.4C1302.6,483.6 1308.7,483.6 1312.5,484.4C1315.4,485 1317,487 1320,487.5C1324.1,488.1 1330.4,485 1335,486.2C1339.6,487.5 1345.1,491.8 1347.5,495C1349.2,497.3 1349.2,499.7 1350,502.5C1350.9,505.8 1351.3,510.4 1352.5,513.8C1353.5,516.6 1355,518.8 1356.2,521.2 M1263.8,510C1262.5,515.8 1260.3,522.3 1260,527.5C1259.8,531.6 1259.9,535.5 1261.2,538.8C1262.5,541.7 1264.5,544.7 1267.5,546.2C1271.2,548.2 1278.5,546.1 1282.5,547.5C1285.6,548.6 1286.8,551.4 1290,552.5C1294.2,554 1301.6,554.7 1306.2,554C1310.1,553.4 1313.9,551.8 1316.2,550C1318.1,548.6 1318.8,546.7 1320,545"/>
<path class="g3" d="M1320,545L1316.2,550L1307.5,552.8L1260.5,527.1L1306.2,497L1310.2,496.6L1356.8,524L1357,526.5L1332.5,543.1L1320,545"/>
<path class="g" d="M1265.5,527.5L1308.8,501.2L1350,525L1330,540L1318.8,541.2L1312.5,546.2L1307.8,548.8Z M1272.5,525L1310,546.2 M1280,521.2L1318.8,541.9 M1287.5,516.2L1330,538.8 M1296.2,511.2L1336.2,533.1 M1303.8,506.9L1342.5,529.4 M1311.2,503.8L1348.8,526.2 M1250,530C1251.7,533.3 1254,536.4 1255,540C1256.1,543.8 1255.4,548.6 1256.2,552.5C1257.1,556.2 1258.7,562.9 1260,563.1C1260.8,563.3 1262,561.5 1262.5,560C1263.3,557.5 1260.5,551 1261.9,548.8C1262.9,547.1 1265.6,547.1 1267.5,546.2"/>
<path class="t" d="M1200,566.2L1250,551.2"/>
<path class="g" d="M1200,565L1210,570.6L1251.2,553.1"/>
<path class="t" d="M1353.8,507.5L1366.2,501.2 M1356.2,512.5L1368.1,506.2"/>
<path class="g" d="M1153.6,517.5C1151,519.7 1147.5,522.1 1145.7,524.2C1144.6,525.8 1144.3,526.6 1143.5,528.7C1141.8,533.3 1139.8,542.7 1137.9,551.2C1135.3,562.4 1132.6,577 1130,589.9 M1152.5,522C1169,537 1191.2,561.4 1202,567C1206.3,569.2 1209,569.5 1212.1,569.2C1215,569 1217.4,567 1220,565.9 M1150.2,527.6C1167.9,543 1195.3,565.6 1203.1,573.7C1205.6,576.4 1206.9,577 1207.6,579.4C1208.5,582.2 1206.9,586.4 1206.5,589.9 M1212.1,572.6L1208.7,577.1L1209.9,589.9 M1083.9,571.5L1083.9,534.4L1089.5,532.1L1097.4,532.7 M1088.4,576L1088.4,538.9L1096.2,533.2L1097.4,571.5L1088.4,576 M1097.4,533.2L1137.9,550.1 M1097.4,558L1130,583.9 M1098.5,571.5L1127.7,583.9 M1055.7,560.8L1077.1,572.6L1107.5,589.9 M1068.1,574.9L1096.2,589.9 M1071.5,550.1C1072.2,552.7 1072.2,555.6 1073.7,558C1075.6,560.9 1079.7,563.2 1082.7,565.9"/>
<path class="g3" d="M1066.2,572.5C1065.8,573.3 1065.3,573.8 1065,575C1064.4,577.4 1063.9,582.4 1064.4,586.2C1064.9,590.7 1066.6,595.7 1068.8,600C1070.9,604.4 1074,608.2 1077.5,612.5C1081.7,617.7 1087.7,623.1 1092.5,628.8C1097.3,634.4 1102.1,640.2 1106.2,646.2C1110.4,652.3 1114.1,658.8 1117.5,665C1120.7,670.9 1123.5,679.4 1126.2,682.5C1127.5,684 1128.1,683.8 1130,685C1135.7,688.7 1157.9,702.5 1165,706.2C1168,707.8 1169.4,708.2 1171.6,709.2"/>
<path class="g" d="M1082.5,617.5L1133.8,646.2 M1065,575L1120,606.2 M1082.5,576.2L1121.2,597.5"/>
<ellipse class="g" cx="1126.9" cy="601.9" rx="6.8" ry="3.4"/>
<path class="g" d="M1118.1,603.8C1118.8,606.7 1118.4,610.5 1120,612.5C1121.6,614.4 1125,615.2 1127.5,615.6C1130,616 1131.7,614.3 1135,615C1142.7,616.7 1167.1,629.3 1171.2,635C1172.9,637.2 1171.4,639.7 1172.5,641.2C1173.5,642.8 1175.5,643.9 1177.5,644.4C1179.9,645 1184,643.5 1186.2,643.8C1187.8,643.9 1188.4,644.3 1190,645C1193,646.2 1197.2,651.2 1202.5,651.2C1211.7,651.3 1227.5,638.8 1240,632.5 M1133.8,605L1175,628.8"/>
<ellipse class="g" cx="1179.4" cy="631.9" rx="6.2" ry="3.1"/>
<path class="g" d="M1190,637.5L1203.8,643.8L1240,626.2 M1205,633.1L1240,616.2 M1202.5,643.8L1202.5,651.2 M1201.2,653.8L1201.9,680 M1171.2,643.8C1171,651.7 1168.9,662.7 1170.6,667.5C1171.5,670 1172.7,670.8 1175,672.5C1179.7,675.9 1195.3,682.6 1200,683.1C1201.8,683.3 1201.9,683.2 1203.8,682.5C1209.7,680.3 1227.9,668.3 1240,661.2"/>
<path class="t" d="M1174.4,645L1175,668.8"/>
<path class="g" d="M1136.2,620L1141.2,677.5L1145,651.2L1150,657.5"/>
<path class="t" d="M1138.8,621.2L1140,650"/>
<path class="g" d="M1153.8,628.8L1156.9,683.1L1160,665L1168.8,667.5"/>
<path class="t" d="M1156.2,632.5L1160,665 M1170,643.8L1170,667.5"/>
<path class="g" d="M1132.5,603.8L1140,583.8L1140,600L1147.5,603.8 M1150,608.8L1157.5,592.5L1157.5,608.8L1165,612.5 M1167.5,618.8L1175,601.2L1175,618.8L1182.5,622.5 M1185,628.8L1193.1,610L1193.8,627.5 M1127.5,595L1135,570 M1203.8,631.2C1204.6,615 1208,592.1 1206.2,582.5C1205.5,578.3 1204,576 1202.5,573.8C1201.4,572.1 1200,571.2 1198.8,570 M1207.5,630C1207.9,613.3 1205.4,589 1208.8,580C1210.3,576 1212.8,574.2 1215,572.5C1216.6,571.2 1218.3,570.8 1220,570 M1215,628.8L1215,615L1220,626.2 M1230,607.5L1235,620"/>
<path class="g3" d="M1163.7,722.7C1163.9,720.5 1164.5,716.9 1166,714.9C1167.5,712.8 1170.2,711.1 1172.7,710.4C1175.4,709.6 1178.7,709.6 1181.7,710.4C1185.4,711.2 1189.6,713.6 1193,716C1196.4,718.4 1199.5,721.7 1202,725C1204.4,728.1 1206.3,731.7 1207.6,735.1C1208.9,738.4 1210,742.1 1209.9,745.2C1209.8,748.1 1209,751 1207.6,753.1C1206.3,755.1 1204.2,756.7 1202,757.6C1199.7,758.6 1196.8,759 1194.1,758.7C1191.2,758.4 1188,757.1 1185.1,755.4C1181.9,753.5 1178.9,750.5 1176.1,747.5C1173.2,744.2 1170.3,739.9 1168.2,736.2C1166.5,733.2 1165,729.8 1164.3,727.2C1163.8,725.5 1163.6,724.4 1163.7,722.7Z"/>
<path class="g" d="M1175,707C1178,707 1181,706.4 1184,707C1187.3,707.7 1191,709.5 1194.1,711.5C1197.4,713.6 1200.5,716.4 1203.1,719.4C1205.8,722.4 1208.3,726 1209.9,729.5C1211.4,732.8 1212.3,736.4 1212.7,739.6C1213.1,742.4 1213.1,745.3 1212.7,747.5C1212.4,749.2 1211.6,750.5 1211,752 M1191.3,707C1192.6,705.7 1193.7,703.7 1195.2,703.1C1196.8,702.4 1199,702.4 1200.9,703.1C1203.4,703.9 1206.4,706.7 1208.7,709.2C1211.3,712 1213.7,715.9 1215.5,719.4C1217.2,722.7 1218.7,726.3 1219.4,729.5C1220.1,732.2 1219.8,734.7 1220,737.4"/>
<path class="g3" d="M1298.7,680C1273.6,700.2 1234,730.3 1223.4,740.7C1220.2,743.9 1219.5,745.2 1217.7,747.5C1216.1,749.7 1215,753.6 1213.2,754.2C1211.9,754.8 1210.2,753.5 1208.7,753.1"/>
<path class="g" d="M1175,707C1175.4,705.5 1175.2,703.6 1176.1,702.5C1177.1,701.3 1178.8,701.2 1180.6,700.2C1183.7,698.7 1190.1,694.5 1193,694.1C1194.4,693.8 1195.3,694.3 1196.4,694.6C1197.5,694.9 1199.7,695.7 1199.7,695.7C1199.7,695.7 1193.7,694.5 1193.8,693.8C1193.8,692.6 1204.6,691.2 1210,690"/>
<path class="t" d="M1179.5,704.2L1187.4,703.1L1193,696.9 M1189.6,702.5L1220,684.5 M1205.4,697.4L1229,683.4"/>
<path class="g3" d="M1378.8,526.2C1381.2,528.1 1384.8,529 1386.2,531.9C1388.3,535.9 1386.2,544 1386.2,550 M1376.2,570C1375.8,574.2 1376.3,579.2 1375,582.5C1373.9,585.1 1371,586.5 1370,588.8C1369.1,590.7 1369.1,592.1 1368.8,595C1368,601.2 1370,617.9 1367.5,625C1365.9,629.6 1364.2,631.3 1360,635C1350.6,643.4 1312.5,661.4 1306.2,666.2C1304.8,667.4 1304.7,667.6 1303.8,668.8C1302,670.9 1299.6,675.4 1297.5,678.8"/>
<path class="g" d="M1271.2,652.5C1274.2,651.9 1277,650.9 1280,650.6C1283.2,650.4 1287,650.2 1290,651.2C1292.8,652.2 1295.4,654.2 1297.5,656.2C1299.5,658.2 1301.5,660.8 1302.5,663.1C1303.3,665 1303.3,666.9 1303.8,668.8 M1271.2,652.5C1263.3,656.2 1256.1,658.8 1247.5,663.8C1236.2,670.3 1222.5,681.2 1210,690"/>
<path class="t" d="M1210,695L1235,668.8"/>
<path class="g" d="M1210,641.9L1243.8,625.6"/>
<ellipse class="g" cx="1252.5" cy="618.1" rx="6.2" ry="3.1"/>
<path class="g" d="M1245.6,620C1245.8,622.5 1245,625.7 1246.2,627.5C1247.4,629.2 1250.4,630.4 1252.5,630.6C1254.5,630.8 1257.1,630.1 1258.8,628.8C1260.6,627.2 1259.7,624.2 1262.5,621.2C1271.7,611.5 1328.4,578.2 1340,576.2C1343.1,575.7 1344.1,577.5 1346.2,577.5C1348.6,577.5 1351.8,577.3 1353.8,576.2C1355.4,575.3 1356.2,573.3 1357.5,571.9 M1260,613.8L1320,580L1325,570 M1210,677.5L1271.2,651.2 M1210,650L1245,632.5 M1212.5,650L1213.1,673.8 M1226.2,643.8L1227.5,666.2 M1241.2,637.5L1241.2,657.5 M1256.2,631.2L1256.9,648.8"/>
<path class="t" d="M1223.1,647.5L1223.8,663.8 M1237.5,641.2L1238.1,655"/>
<path class="g" d="M1357.5,595L1368.8,590 M1268.8,618.8L1272.5,650L1273.1,616.2 M1286.2,608.8L1288.1,647.5L1291.2,607.5 M1301.2,601.2L1302.5,652.5L1306.2,598.8 M1317.5,591.2L1320,640L1322.5,588.8 M1333.8,583.8L1335.6,633.1L1338.8,580 M1350,576.2L1350,625.6L1356.2,572.5 M1275,643.8L1285,638.1 M1291.2,632.5L1305,625 M1310,622.5L1351.2,598.8 M1214.8,631.2L1213.8,615.6L1221.9,630 M1229.8,623.1L1228.8,607.5L1236.9,621.9 M1244.1,615L1243.1,599.4L1251.2,613.8 M1259.8,606.2L1258.8,590.6L1266.9,605 M1276,596.9L1275,581.2L1283.8,595.6 M1291,588.8L1290,573.8L1299,587.5 M1306.9,581.2L1306.2,570L1314.4,579.4 M1210,628.8L1320,570 M1341.2,571.2C1342.1,568.3 1342.1,564.4 1343.8,562.5C1345.2,560.9 1347.9,559.9 1350,560C1352.1,560.1 1355,561.5 1356.2,563.1C1357.5,564.8 1357.4,567 1357.5,570C1357.7,575.5 1355.8,585.8 1355,593.8"/>
<path class="t" d="M1343.8,563.8C1345.8,564.6 1347.9,566.2 1350,566.2C1352.1,566.2 1354.2,564.6 1356.2,563.8"/>
<path class="g" d="M1386.2,532.5L1337.5,563.8L1316.2,575.6"/>
<path class="g3" d="M1386.2,550L1375,557.5L1373.8,577.5"/>
<path class="g" d="M1376.2,520L1375,532.5 M1362.5,538.8L1365,527.5L1370.2,537.8 M1348.5,547.8L1350,536.2L1356.5,548.5 M1333.5,556.5L1333.8,545.6L1340.2,556.5 M1320.2,566.5L1320,553.8L1326.5,565.2"/>
</g>
<g id="oring5">
<ellipse class="g3" cx="995.2" cy="494.8" rx="25.9" ry="42" transform="rotate(30 995.2 494.8)"/>
<ellipse class="t" cx="995.6" cy="495.4" rx="19.5" ry="35.2" transform="rotate(30 995.6 495.4)"/>
</g>
<g id="pipe8">
<path class="g2" d="M447.7,434.9C449.5,433.7 451.4,432.9 453,431.4C454.7,429.6 456.7,427.1 457.4,424.3C458.2,420.9 457.5,416.1 456.5,412.1C455.5,407.9 453.5,403.8 451.2,399.8C448.8,395.6 445.9,390.5 442.5,387.5C439.4,384.9 435.5,383 431.9,382.3C428.5,381.6 425,382.2 421.4,383.1C417.4,384.3 413.6,387.1 409.1,389.3C403.8,391.9 397.3,395.1 391.6,398.1C386.2,400.9 381.1,403.3 375.8,406.8C370,410.7 364.7,416.6 358.3,420.8C351.4,425.4 343,428.8 335.5,433.1C327.9,437.5 320,441.9 312.7,447.1C305.4,452.4 298.3,458.3 291.7,464.7C284.9,471.2 278.7,479.5 272.4,485.7C267,491 262,495.6 256.6,499.7C251.5,503.7 245.8,506.2 240.8,510.3C235.8,514.4 230.9,519.1 226.8,524.3C222.7,529.6 218.8,535.5 216.3,541.8C213.8,548.3 212.5,556.4 211.9,562.8C211.5,568.2 212.1,571.9 212.4,577.5C212.9,585 214.5,595.1 215.1,603.8C215.6,612.6 216.5,621.2 215.9,630.1C215.4,639.4 213.4,649.2 211.6,658.2C209.8,666.7 206.9,674.8 205.4,682.7C204.1,690 202.5,697.1 202.8,703.8C203,709.9 204.4,715.9 206.3,721.3C208,726.4 210.7,731.9 213.3,735.3C215.2,737.7 217.4,738.8 219.4,740.6"/>
<path class="t" d="M416.2,387.5C421.4,391.6 427.5,395 431.9,399.8C436.2,404.4 440.1,410.3 442.5,415.6C444.5,420.2 444.8,424.9 446,429.6 M424.9,385.8C430.2,391 436.5,395.8 440.7,401.6C444.6,407 447.8,413.9 449.5,419.1C450.7,422.9 450.6,426.1 451.2,429.6"/>
<path class="g2" d="M430.2,455.9C428.4,455.9 427.1,455.4 424.9,455.9C421,456.7 415.2,460.1 409.1,462.9C400.8,466.8 389.3,471.6 379.3,476.9C368.8,482.6 358.5,489.5 347.8,496.2C336.4,503.4 324.1,511.8 312.7,519C302,525.8 288.7,532.9 281.2,538.3C276.6,541.6 273,543.5 270.6,547.1C268.4,550.5 267.4,554.9 267.1,559.3C266.8,564.6 269.2,573 269.8,576.9C270,578.7 270.1,579.1 270.3,581C270.7,585.6 271.5,596.2 272,603.8 M430.2,455.9C430.8,454.7 430.9,453.7 431.9,452.4C433.9,450 439.7,446.7 442.5,443.6C444.7,441.1 446,438.4 447.7,435.7 M430.2,455.9C432.5,457.9 434.7,461.1 437.2,462C439.4,462.9 442,462.9 444.2,462C446.7,461.1 449.5,458.4 451.2,455.9C453,453.4 454.7,449.9 454.7,447.1C454.8,444.7 453.5,441.6 452.1,440.1C451,439 449.2,439 447.7,438.4"/>
<ellipse class="t" cx="444.2" cy="452.4" rx="3" ry="5" transform="rotate(30 444.2 452.4)"/>
<ellipse class="t" cx="325.9" cy="494.1" rx="7.6" ry="12.4" transform="rotate(8 325.9 494.1)"/>
<ellipse class="t" cx="325.9" cy="494.1" rx="3.2" ry="5.8" transform="rotate(8 325.9 494.1)"/>
<path class="t" d="M320.6,483.1C315.9,485.4 308.9,487.6 306.6,490.1C305.3,491.4 305.4,492.8 304.8,494.1 M320.6,505.3L306.6,500.1"/>
<path class="g2" d="M219.4,739.7L208.9,752.8L210.7,757.2L217.7,759L223,752.8L229.1,749.7"/>
<path class="t" d="M220,742.7L215.1,751.1"/>
<path class="g2" d="M229.1,750.2C233.2,751.4 236.9,753 241.4,753.7C246.6,754.6 253.5,755.4 258.9,754.6C263.9,753.8 268.8,751.8 272.9,749.3C276.9,747 280.8,744.1 283.4,740.6C286,737.1 288.1,732.5 288.7,728.3C289.2,724.3 288.4,719.8 286.9,716C285.5,712.2 282.7,708.3 279.9,705.5C277.4,702.9 274.5,699.9 271.2,699.4C267.5,698.8 262.7,702.4 258.9,702.9C255.8,703.3 252.3,704 250.1,702.9C248.1,701.8 246.5,699.1 245.7,696.7C244.9,694.2 245.3,691.2 245.7,688C246.4,683.8 248.3,678.7 250.1,674C252.1,668.8 255,663.3 257.1,658.2C259.1,653.4 260.9,648.7 262.4,644.2C263.8,640 264.7,636 265.9,631.9 M265.9,631.9C267.7,631.9 269,632 271.2,631.9C274.7,631.7 280.3,631.2 285.2,630.1C290.8,629 298.4,627.4 302.7,624.9C305.9,623 308.7,620.4 309.7,617.9C310.6,615.7 310.4,613 309.7,610.8C309,608.6 307.2,605.8 305.4,604.7C303.6,603.7 301.5,603.6 299.2,603.8C296.1,604.1 292.2,606.9 288.7,607.3C285.2,607.8 281.2,607.2 278.2,606.5C275.8,605.9 274.1,604.7 272,603.8"/>
<path class="t" d="M272,603.8L271.2,617.9L269.8,631 M285.2,630.1L286.9,614.3L289,607.7 M272.6,610.8L286.9,614.7"/>
<ellipse class="t" cx="301.0" cy="617.0" rx="3.8" ry="4.8" transform="rotate(30 301.0 617.0)"/>
</g>
<g id="clamp9">
<path class="g3" d="M298.3,696.7C298.1,693 298,689.6 299.2,686.2C300.5,682.5 303.1,678.5 306.2,675.7C309.5,672.8 314.2,670.3 318.5,669.6C322.9,668.8 328,669.6 332.5,671.3C337.4,673.2 342.3,677 346.5,681C351.1,685.3 355.6,691.1 358.8,696.7C362,702.2 364.7,708.5 365.8,714.3C366.9,719.6 367.1,725.2 365.8,730.1C364.6,734.8 362.1,739.8 358.8,743.2C355.6,746.5 350.8,749.3 346.5,750.2C342.6,751.1 338.3,750.7 334.3,749.3C329.6,747.8 324.5,744.4 320.3,740.6C315.6,736.4 311.3,730.1 308,724.8C305,720.1 302.6,715.6 301,710.8C299.4,706.2 298.6,701.1 298.3,696.7Z"/>
<path class="t" d="M309.7,695C309.7,691.5 309.3,687.5 310.6,684.5C311.8,681.7 314.1,678.7 316.7,677.5C319.6,676.2 323.8,676.4 327.3,677.5C331.4,678.8 335.9,682.6 339.5,686.2C343.5,690.1 347.4,695.1 350.1,700.3C352.7,705.6 354.5,712.2 355.3,717.8C356,722.7 356.3,727.6 355.3,731.8C354.4,735.7 352.9,740.3 350.1,742.3C347.1,744.4 341.7,745 337.8,744.1C333.5,743 329.1,739.1 325.5,735.3C321.4,731.1 317.5,724.8 315,719.5C312.8,714.9 311.5,709.9 310.6,705.5C309.9,701.8 309.7,698.5 309.7,695Z M323.8,674.8C328.4,677.5 333.6,679.1 337.8,682.7C342.5,686.8 346.6,692.8 350.1,698.5C353.6,704.4 357.1,711.5 358.8,717.8C360.3,723.2 361.4,728.9 360.6,733.6C359.9,737.5 357.1,740.6 355.3,744.1"/>
<path class="g3" d="M306.2,674L302.7,667.8L312.4,662.6L315.9,668.7"/>
<path class="t" d="M306.2,716.9L313.2,713.4 M317.6,733.6L322.9,729.2 M353.6,702L358.8,700.3 M356.2,716L361.5,714.3"/>
</g>
<g id="clamp11">
<path class="g3" d="M461,619C460.7,616.2 460.2,613.8 460.6,611.1C461,608.2 462.1,605 463.6,602.4C465.2,599.7 467.4,597.2 469.7,595.4C472.1,593.6 474.8,592.2 477.6,591.4C480.6,590.7 484.1,590.3 487.2,591C490.8,591.7 494.5,594 497.7,596.2C501.2,598.6 504.5,601.7 507.4,605C510.3,608.4 513.1,612.4 515.2,616.4C517.3,620.3 519,624.5 520.1,628.6C521,632.4 521.6,636.3 521.4,640C521.1,643.6 520.3,647.4 518.7,650.5C517.3,653.5 515,656.2 512.6,658.4C510.3,660.4 507.6,662.2 504.7,663.2C502,664.1 498.9,664.5 496,664.1C492.8,663.6 489.4,661.9 486.4,660.1C483,658.1 479.7,655.3 476.7,652.2C473.6,649 470.4,644.8 468,640.9C465.8,637.2 463.9,633.3 462.7,629.5C461.7,626 461.4,622.3 461,619Z"/>
<path class="g" d="M471.5,619C471.1,616.4 470.5,613.7 470.6,611.1C470.8,608.5 471.3,605.6 472.4,603.2C473.4,601 474.8,598.3 476.7,597.1C478.6,596 481.4,595.8 483.7,596.2C486.4,596.8 489.1,598.7 491.6,600.6C494.4,602.7 497.1,605.5 499.5,608.5C502.1,611.6 504.6,615.3 506.5,619C508.4,622.6 509.8,626.5 510.9,630.4C511.9,634.1 512.6,638.1 512.6,641.7C512.6,645.1 512.2,648.7 511.3,651.4C510.6,653.5 509.8,655.6 508.2,656.6C506.7,657.6 504.2,657.8 502.1,657.5C499.6,657.1 496.8,655.7 494.2,654C491.2,652 488.2,649.1 485.5,646.1C482.6,643 479.7,639.1 477.6,635.6C475.8,632.7 474.3,629.8 473.2,626.9C472.3,624.2 471.9,621.6 471.5,619Z"/>
<path class="t" d="M477.6,595.4C480.5,595.4 483.5,594.5 486.4,595.4C489.6,596.3 493,599 496,601.5C499.2,604.2 502.2,607.6 504.7,611.1C507.4,614.8 509.8,619.1 511.7,623.4C513.6,627.6 515.3,632.3 516.1,636.5C516.9,640.1 517.4,643.9 517,647C516.6,649.6 515.7,652.2 514.4,654C513.2,655.6 511.4,656.3 510,657.5"/>
<path class="g3" d="M468,595.4L463.6,590.1L474.1,584.4L477.6,589.7"/>
<path class="t" d="M468.4,634.3L474.6,631.2 M478.5,648.7L482,645.7 M510.4,620.7L514.4,619 M513.5,632.6L517,630.8"/>
</g>
<g id="part15">
<path class="g3" d="M821.1,787C788.3,767.7 724.3,738.9 722.7,729.2C722.3,726.7 726.1,725.9 727.5,723.7C729.2,721 729.9,717.4 731.7,714.1C733.8,710.1 736.7,705.3 739.9,701.7C743.1,698 746.9,694.3 750.9,692C754.7,689.8 759.3,688.4 763.3,687.9C767.1,687.4 770.5,687.8 774.3,688.6C778.7,689.5 783.5,691.8 788.1,693.4C792.7,695 797.1,697.2 801.9,698.2C806.7,699.3 812.1,699.6 817,699.6C821.7,699.6 826.9,698.8 830.8,698.2C833.7,697.8 836.2,696.4 838.4,696.8C840.2,697.3 841.2,699.7 843.2,700.3C845.5,701 848.5,700 851.4,700.3C854.9,700.6 859.1,701.1 862.4,702.4C865.5,703.5 868.5,705 870.7,707.2C872.9,709.3 874.7,712.5 875.5,715.4C876.3,718.4 875.9,722 875.5,725.1C875.2,727.9 873.5,730.6 873.5,733.3C873.5,736.1 874.4,739.1 875.5,741.6C876.7,744.1 878.3,746.5 880.3,748.5C882.6,750.6 886,752.1 888.6,754C891,755.8 894,757.1 895.5,759.5C897.1,762 897.1,765.9 897.5,769.1C898,772.3 897.3,776.2 898.2,778.8C899,780.8 901.8,782.1 901.7,783.6C901.6,784.9 899.8,786 898.2,787C895.9,788.6 890.3,789.4 888.6,791.1C887.6,792.2 887.8,793.4 887.2,794.6C886.5,795.9 885.8,797.9 884.5,798.7C883.1,799.6 880.1,800.2 879,799.4C877.8,798.6 878.1,795.4 877.6,793.9C877.2,792.8 877.2,791.5 876.2,791.1C874.1,790.3 867.3,794.9 862.4,796C857.3,797.1 851.1,797.8 845.9,797.3C841.1,796.9 836.4,795.7 832.2,793.9C828.1,792.2 824.8,789.3 821.1,787"/>
<path class="g" d="M730.3,725.8C755.1,739.3 798.7,767.2 804.6,766.4C805.5,766.2 805.2,765.1 806,765C808.7,764.6 823.7,771.5 825.3,774.6C826,776 824,777.6 824.6,778.8C825.4,780.5 829.4,781.4 832.2,782.9C835.5,784.6 839.1,787.2 843.2,788.4C847.7,789.7 853,789.9 858.3,789.8C864.4,789.6 871.1,788.5 877.6,787C884.4,785.4 891.4,782.4 898.2,780.1"/>
<path class="t" d="M733,717.5L805.3,764.3"/>
<path class="g" d="M746.8,701L854.2,773.2 M888.6,758.8C878,763.6 863.3,767.7 856.9,773.2C853.1,776.6 850.9,781.4 850.1,784.3C849.6,785.9 850.1,787 850.1,788.4"/>
<path class="t" d="M869.3,726.4L873.5,719.6 M869.3,732.6L874.1,740.2"/>
<path class="g" d="M877.6,784.3L885.8,782.9L887.9,788.4"/>
</g>
<g id="part14">
<path class="g3" d="M726.2,820.6C727.1,819 727.3,817 728.9,815.8C731.2,814.2 735.5,814.2 739.9,813.8C746.2,813.1 755.7,812.1 763.3,813.1C770.9,814 777.8,817.1 785.4,819.3C793.4,821.6 803,826.1 810.1,826.8C815.3,827.4 819.3,825.6 823.9,825.5C828.5,825.4 833.1,825.4 837.7,826.2C842.3,827 847.2,828.4 851.4,830.3C855.4,832.1 860,834.3 862.4,837.2C864.5,839.5 865.2,842.4 865.9,845.4C866.7,848.8 864.5,852.8 866.6,856.4C870.1,862.6 888.6,869.6 892.7,874.3C894.5,876.4 894.8,876.9 895.5,879.8C897.8,889.8 898,938.7 895.5,948.2C894.8,950.9 894.6,951.3 892.7,953C887.9,957.2 863.5,963 859.7,966.8C858.5,968 859.1,968.9 858.3,970.2C857,972.5 854.3,976.2 851.4,978.5C848.4,980.9 844.4,982.6 840.4,984C836.2,985.4 831.3,986.6 826.7,986.7C822.1,986.8 817,986.3 812.9,984.7C808.8,983.1 804.4,980.3 801.9,977.1C799.5,974.1 798.4,970.4 797.7,966.1C796.9,960.2 798.7,951.9 799.1,944.7 M726.2,820.6L726.2,833L719.3,837.2L720.6,848.2L726.8,851.6L728.9,874.3L729.6,897.7L741.3,907.4L739.9,911.5L746.8,917.7L753.7,914.3L754.4,911.5L799.1,944.5"/>
<path class="g" d="M730.3,819.3C733,818.8 735.9,817.3 738.5,817.9C741.5,818.6 745.1,820.8 746.8,824.1C749.2,828.8 747.3,838.3 747.5,845.4 M759.2,817.2C759,823.9 757.4,833.1 758.5,837.2C759.1,839.2 761,839.9 761.3,841.3C761.5,842.6 761.4,844.3 760.6,845.4C759.6,846.8 757,847.1 755.1,848.2C752.9,849.5 749.8,850.1 748.2,853C745,858.9 747.7,875.5 747.5,886.7 M752.3,853L752.3,886.7L790.9,899.1 M734.4,894.3C737.6,893.6 741.1,893.5 744.1,892.2C747,891 749.6,888.6 752.3,886.7 M759.2,837.2L782.6,850.9"/>
<path class="t" d="M764.7,848.2C766.5,848.2 768.5,848.6 770.2,848.2C771.7,847.8 773,846.8 774.3,846.1"/>
<path class="g" d="M865.2,845.4C862.9,842.2 861.3,838.5 858.3,835.8C855,832.9 850.6,830.5 845.9,828.9C840.6,827.1 834,826.2 828,826.2C822.1,826.2 815.6,827.2 810.1,828.9C805.1,830.5 800,833 796.4,835.8C793.4,838.2 790.9,840.9 789.5,844.1C788.1,847.3 787.8,851.7 788.1,855.1C788.4,858.1 789.2,860.9 790.9,863.3C792.7,866 795.7,868.4 799.1,870.2C803.2,872.5 809,874.2 814.3,875C819.6,875.9 825.4,875.7 830.8,875C836,874.3 841.6,872.8 845.9,870.9C849.6,869.2 852.3,866.8 855.6,864.7 M858.3,852.3C856.9,850 856.2,847.4 854.2,845.4C851.6,842.9 847.3,840.6 843.2,839.2C838.7,837.7 833.1,837.3 828,837.2C823,837.1 817.7,837.4 812.9,838.5C808.1,839.7 802.7,841.5 799.1,844.1C796.1,846.3 792.7,849.6 792.2,852.3C791.9,854.6 794.1,856.9 795,859.2"/>
<ellipse class="g" cx="826.0" cy="856.4" rx="24" ry="9.6"/>
<path class="g" d="M782.6,850.9L789.5,844.1L790.9,852.3L784.7,856.4 M855.6,852.3L856.9,860.6L851.4,877.1 M796.4,873C795.4,880.8 793.8,888.8 793.6,896.4C793.4,903.5 794.5,910.1 795,917 M796.4,919.8C801,921.6 805.3,923.9 810.1,925.3C815.3,926.7 821.3,927.9 826.7,928C831.8,928.1 838.4,927 841.8,926C843.7,925.4 844.5,924.6 845.9,923.9 M855.6,864.7C854.2,868.8 852,872.5 851.4,877.1C850.8,882.5 852.2,890.2 852.8,895C853.2,898.3 854.6,900.4 854.2,903.2C853.7,906.7 850.1,910.6 848.7,914.3C847.4,917.5 846.8,920.4 845.9,923.9C844.9,928.1 844,932.3 843.2,937.7C842,945.2 841.3,956 840.4,965.2 M824.6,881.2L828.7,878.5L830.8,881.9L826.7,884.7Z M830.8,881.9L852.8,895 M837.7,884L855.6,871.6 M855.6,871.6L858.3,885.4L892.7,877.1 M858.3,885.4L852.8,895 M863.8,860.6L879,878.5"/>
<ellipse class="g" cx="879.0" cy="889.5" rx="5" ry="3" transform="rotate(-38 879.0 889.5)"/>
<path class="t" d="M843.2,917L848.7,916.3L848,923.9L843.9,924.6Z"/>
<path class="g" d="M801.2,968.8C806.5,970.7 811.7,973.2 817,974.3C822.1,975.4 827.3,976.2 832.2,975.7C836.9,975.2 841.3,973 845.9,971.6 M801.9,958.5C805.5,959.7 810.5,960.7 812.9,961.9C814.2,962.6 814.5,963.9 815.6,964C817.1,964.2 818.7,962 821.1,961.9C825.6,961.8 834,965.6 840.4,967.5 M799.1,945.4C802.3,945.4 806.3,946.2 808.8,945.4C810.5,944.9 811.1,943.6 812.9,942.7C815.6,941.2 819.7,939 823.9,937.9C829.1,936.5 835.8,936.7 841.8,936.1"/>
<path class="t" d="M807.4,946.1C808.8,948.9 811.2,951.8 811.5,954.4C811.8,956.5 810.6,958.5 810.1,960.6 M817,944.1C817.9,946.3 819.3,948.4 819.8,950.9C820.3,953.8 819.8,957.4 819.8,960.6 M811.5,952.3L817,945.4"/>
<path class="g" d="M840.4,961.9L844.5,968.1 M850.1,968.1L859.7,966.8"/>
</g>
<g id="part16">
<path class="g3" d="M547.4,993.8L580.4,978.7L583.9,960.1L602.5,945.6L610,935.3L730.5,1000.7L743.6,1001.4L740.1,1035.1L736,1053L740.1,1068.9L727.7,1079.2L712.6,1075.7L679.5,1079.2L679.5,1089.5L676.1,1093L657.5,1083.3L628.6,1067.5L620.4,1062.7L617.6,1060.6L576.3,1037.2L574.9,1033.8L550.1,1020.7L546.7,1015.9Z"/>
<path class="g" d="M585.9,961.5L696.1,1036.5 M583.9,980.1L690.6,1054.4 M606.6,948.4C626.3,960.3 648.5,974.9 665.8,984.2C678.6,991.1 689.5,995.6 700.2,1000.7C709.5,1005.2 717.6,1009 726.4,1013.1 M729.8,1004.8L727.7,1011.7L696.1,1036.5L694.7,1057.2L658.9,1064L656.1,1065.4 M555.6,992.5L571.5,1003.5L569.4,1009L570.8,1026.9 M550.1,1017.2L568.7,1011.7 M574.9,1006.9L621,1039.3L619.7,1058.5 M579.1,1035.1L603.8,1027.6 M625.9,1044.1L656.1,1064L656.1,1082.6 M630,1065.4L645.1,1059.2 M658.9,1064L658.2,1075.1 M665.8,1064.7L678.2,1076.4L679.5,1079.2"/>
<path class="t" d="M663,1080.6L668.5,1075.7L674,1079.2 M667.8,1070.9L668.5,1075.7"/>
<path class="g" d="M738.1,1010.4C735.3,1015.9 730.9,1021.6 729.8,1026.9C728.9,1031.2 730.9,1034.6 730.5,1039.3C729.9,1045.6 726.8,1053.9 725,1061.3"/>
</g>
<g id="hose12">
<path class="g3" d="M1108.4,1017.1C1110.2,1018.3 1112,1019 1113.9,1020.6C1116.5,1022.6 1119.7,1025.6 1122.2,1028.8C1124.8,1032.4 1127.3,1037 1129,1041.2C1130.7,1045.3 1132.1,1049.6 1132.5,1053.6C1132.9,1057.4 1132.6,1061.1 1131.8,1064.6C1131,1068 1129.6,1071.5 1127.7,1074.3C1125.8,1076.9 1123.4,1079 1120.8,1081.1C1117.9,1083.6 1115,1086.2 1111.1,1088C1106.5,1090.3 1100.4,1091.6 1094.6,1092.8C1088.5,1094.2 1081.5,1095.4 1075.4,1095.6C1069.6,1095.8 1064.4,1095.4 1058.8,1094.2C1052.9,1093 1046.5,1090.9 1040.9,1088C1035.4,1085.2 1030.2,1081.4 1025.8,1077C1021.4,1072.7 1017.6,1067.3 1014.8,1061.9C1012.1,1056.7 1010.4,1051.1 1009.3,1045.4C1008.1,1039.2 1007.8,1032.9 1007.9,1026.1C1008,1018.3 1009.5,1007.9 1010.6,1001.3C1011.4,996.8 1012,994.3 1013.4,990.1C1015.3,984.5 1018.1,977 1021.7,970.9C1025.4,964.5 1030.2,958.4 1035.4,953C1040.7,947.4 1047.3,942.2 1053.3,937.8C1058.8,933.8 1065,930.2 1069.8,927.5C1073.4,925.5 1077.2,923.8 1079.5,922.7C1080.7,922.1 1081.5,922 1082.2,921.3C1082.9,920.6 1082.7,919.6 1083.6,918.5C1085.4,916.3 1090.8,912.9 1094.6,910.3C1098.6,907.6 1103.2,905.1 1107,902.7C1110.4,900.6 1113.5,898.2 1116.7,896.5C1119.4,895.1 1122.1,893.5 1124.9,893.1C1127.6,892.7 1130.4,892.9 1133.2,893.8C1136.4,894.8 1139.8,896.8 1142.8,899.3C1146.3,902.1 1149.7,906.2 1152.4,910.3C1155.2,914.5 1157.6,919.4 1159.3,924.1C1161,928.6 1162.4,933.5 1162.8,937.8C1163.1,941.7 1163,945.5 1162.1,948.8C1161.3,951.9 1160,954.8 1158,957.1C1155.9,959.4 1152.6,961.1 1149.7,962.6C1146.7,964.1 1143.3,964.9 1140.1,966C1136.8,967.2 1133.1,968 1130.4,969.5C1128.2,970.7 1127.1,972.7 1124.9,973.6C1122.5,974.6 1119.5,974.2 1116.7,975C1113.5,975.9 1110.5,977.3 1107,979.1C1102.4,981.5 1096.6,985.4 1091.9,988.8C1087.5,991.9 1082.9,995.1 1079.5,998.4C1076.7,1001.1 1074.2,1003.5 1072.6,1006.7C1071,1009.9 1069.8,1014.1 1069.8,1017.7C1069.9,1021 1071.1,1025.2 1072.6,1027.3C1073.7,1028.8 1075.8,1030.4 1076.7,1030.1C1077.7,1029.7 1077.6,1026.4 1078.1,1024.5"/>
<path class="t" d="M1098.8,911C1103.8,913 1109.5,913.8 1113.9,917.2C1118.8,921 1123.2,927.8 1126.3,933.7C1129.3,939.3 1131.6,945.7 1132.5,951.6C1133.3,957.1 1132,962.6 1131.8,968.1 M1105.6,906.8C1111.1,908.9 1117.3,909.5 1122.2,913C1127.6,917.1 1132.4,924.7 1135.9,930.9C1139.1,936.7 1141.7,942.9 1142.8,948.8C1143.8,954.4 1142.8,959.8 1142.8,965.4 M1113.9,900.6C1119.4,902.9 1125.6,903.8 1130.4,907.5C1135.9,911.7 1140.7,919.1 1144.2,925.4C1147.5,931.5 1150.1,938.4 1151.1,944.7C1151.9,950.3 1150.6,955.7 1150.4,961.2"/>
<path class="g" d="M1076.7,1021.9C1080.4,1020.1 1084,1017.5 1087.7,1016.4C1091.3,1015.5 1095.2,1015.6 1098.8,1015.8C1102.1,1015.9 1105.2,1016.7 1108.4,1017.1"/>
<path class="t" d="M1079.5,1026.1C1085,1027 1091.1,1026.7 1096,1028.8C1100.7,1030.9 1105,1034.5 1108.4,1038.5C1112,1042.7 1114.8,1048.3 1116.7,1053.6C1118.5,1058.9 1119.5,1065 1119.4,1070.1C1119.3,1074.6 1117.6,1078.4 1116.7,1082.5 M1100.1,1027.5C1104.7,1032 1110.2,1036 1113.9,1041.2C1117.6,1046.5 1120.6,1053.4 1122.2,1059.1C1123.5,1063.9 1124,1068.9 1123.5,1072.9C1123.2,1076 1121.7,1078.4 1120.8,1081.1 M1080.9,1023.3L1097.4,1026.1L1107,1019.2 M1085,1021.3L1093.2,1024 M1086.4,1018.5L1096,1021.3L1100.1,1017.8"/>
</g>
<g id="clamp13">
<path class="g3" d="M1314.1,867.2C1313.8,864.2 1313.9,861.4 1314.5,858.5C1315.1,855.5 1316.3,852.3 1318,849.7C1319.6,847.3 1321.8,845.2 1324.1,843.6C1326.5,842 1329.2,840.6 1332,840.1C1334.8,839.6 1337.8,839.8 1340.7,840.6C1344,841.4 1347.4,843.3 1350.4,845.4C1353.5,847.6 1356.5,850.6 1359.1,853.7C1361.8,856.8 1364.1,860.1 1366.1,863.7C1368.2,867.5 1370.2,871.9 1371.4,876C1372.5,879.8 1373.2,883.7 1373.1,887.4C1373.1,890.7 1372.6,894.1 1371.4,897C1370.2,899.9 1368.3,902.7 1366.1,904.9C1363.9,907 1361,908.7 1358.2,909.7C1355.5,910.7 1352.4,911.3 1349.5,911C1346.3,910.7 1342.9,909.2 1339.9,907.5C1336.5,905.6 1333.2,902.7 1330.2,899.6C1327.1,896.3 1323.9,892.1 1321.5,888.2C1319.3,884.8 1317.5,881.3 1316.2,877.7C1315.1,874.3 1314.3,870.6 1314.1,867.2Z"/>
<path class="g" d="M1324.6,865.5C1324.1,862.6 1323.9,860.2 1324.1,857.6C1324.4,855.2 1324.8,852.6 1325.9,850.6C1326.9,848.8 1328.5,847 1330.2,846.2C1332,845.5 1334.3,845.7 1336.4,846.2C1338.9,846.9 1341.7,848.7 1344.2,850.6C1347,852.7 1349.8,855.6 1352.1,858.5C1354.5,861.4 1356.5,864.8 1358.2,868.1C1360,871.5 1361.6,875.1 1362.6,878.6C1363.6,882.1 1364.3,885.9 1364.4,889.1C1364.4,891.9 1364.1,894.6 1363.5,897C1362.9,899.2 1362.2,901.7 1360.9,903.1C1359.7,904.3 1358.2,905.2 1356.5,905.3C1354.5,905.5 1351.8,904.3 1349.5,903.1C1346.8,901.7 1344.1,899.3 1341.6,897C1338.9,894.4 1336.1,891.4 1333.7,888.2C1331.4,885 1329.1,881.5 1327.6,877.7C1326.1,873.9 1325.1,869.2 1324.6,865.5Z"/>
<path class="g3" d="M1321.5,843.6L1318,839.7L1327.6,834.4L1330.2,839.7"/>
<path class="t" d="M1322.4,881.7L1328.1,879.1 M1332,895.7L1335.1,893.1 M1362.6,868.6L1366.1,867.2 M1365.2,880.8L1368.7,878.6"/>
</g>
<!-- PARTS-END -->

<!-- ===== highlighted part 10 ===== -->
<!-- P10-START -->
<g id="part10">
<path d="M394.1,588.5V621" stroke="#000" stroke-width="3.8" fill="none"/>
<polygon points="385,619 403.2,619 394.1,634.6" fill="#000"/>
<path class="k3" d="M394.6,634.4C397,633.9 399.8,634.4 402.2,634.8C404.3,635.1 406.3,635.7 408.2,636.3C409.8,636.8 411.2,638.3 412.7,638.2C414.5,638 416.1,635.5 418,634.4C419.9,633.3 421.9,632 424,631.4C426,630.9 428,630.8 430,631C432.1,631.2 434.1,631.6 436.1,632.5C438.4,633.7 440.6,635.7 442.8,637.8C445.4,640.3 448.1,643.5 450.4,646.8C452.7,650.3 454.9,654.3 456.4,658.1C457.8,661.8 459.2,665.8 459.4,669.4C459.6,672.8 459,676.5 457.9,679.2C456.9,681.6 455.2,683.6 453.4,685.2C451.6,686.8 449.4,688.1 447.3,689C445.5,689.8 443,689.2 441.7,690.5C440.2,692.1 440.9,696.2 439.8,698.8C438.8,701.5 437.3,704.2 435.3,706.3C433.3,708.5 430.3,710.1 427.8,711.6C425.3,713.1 422.6,714.4 420.2,715.4C418.2,716.2 416.2,717 414.2,717.2C412.2,717.5 410.3,717.4 408.2,716.9C405.8,716.2 403.2,714.8 400.7,713.1C397.6,711 394.6,707.8 391.6,704.8C388.5,701.6 385.3,698.1 382.6,694.3C379.8,690.3 377,685.7 375.1,681.5C373.3,677.7 372,673.8 371.3,670.2C370.7,667 370.4,664.1 370.5,661.1C370.7,658.3 371.1,655.4 372,652.9C372.9,650.4 374.2,648 375.8,646.1C377.4,644.1 379.7,642.6 381.8,641.2C384,639.7 386.4,638.6 388.6,637.4C390.7,636.3 392.5,634.9 394.6,634.4Z"/>
<path class="k1" d="M381.8,642.7C384.6,642.4 387.3,641.6 390.1,641.9C393.1,642.3 396.2,643.6 399.2,645.3C402.5,647.3 405.8,650.4 408.9,653.6C412.4,657.3 416.1,662 418.7,666.4C421.3,670.6 423.2,674.9 424.8,679.2C426.2,683.2 427.3,687.5 427.8,691.3C428.2,694.5 428.1,697.2 427.8,700.3C427.4,703.5 426.3,707.8 425.5,710.1C425,711.4 424.5,712.1 424,713.1"/>
<path class="k2" d="M412.5,637.2C415,639 417.5,640.4 420,642.7C423.1,645.6 426.9,650 429.5,653.6C431.8,656.7 433.6,659.5 435.1,662.6C436.5,665.6 437.5,668.8 438.4,672C439.3,675.3 440,678.8 440.6,682C441.1,684.9 441.3,687.7 441.7,690.5"/>
<path class="k1" d="M421.6,635.9C423.1,636.3 424.5,636.4 426,637C427.7,637.7 429.5,638.7 431.3,640.1C433.7,642 436.7,644.8 438.9,647.6C441.2,650.4 443.3,653.8 444.9,657C446.4,660.1 447.4,663.7 448.3,666.4C449,668.5 449.5,670 449.8,672C450.2,674.2 450.5,676.9 450.4,679C450.3,680.8 450,682.7 449.6,684C449.3,684.8 448.9,685.3 448.6,686 M393.1,652.1C393.9,655.6 394.3,659.1 395.4,662.7C396.5,666.4 398,670.3 399.9,673.9C401.8,677.6 404.2,681.3 406.7,684.5C409,687.5 411.6,690.4 414.2,692.8C416.6,694.9 419.2,696.3 421.7,698"/>
</g>
<!-- P10-END -->

<!-- ===== banner ===== -->
<rect x="40" y="1127" width="1520" height="111.5" fill="#4fbbf5"/>
<g transform="translate(338.5,1176.9) scale(1,1.03)">
<text class="ban" x="0" y="0">Part or sub-assembly is #</text>
<g transform="translate(526,0)"><text class="ban" x="0" y="0" clip-path="url(#oneb)">1</text></g>
<text class="ban" x="551.94" y="0">0 in diagram</text>
</g>
<g transform="translate(276.5,1226.8) scale(1,1.03)">
<text class="ban" x="0" y="0">Diagram may not be specific to your vehicle</text>
</g>
</svg>
</body>
</html>
